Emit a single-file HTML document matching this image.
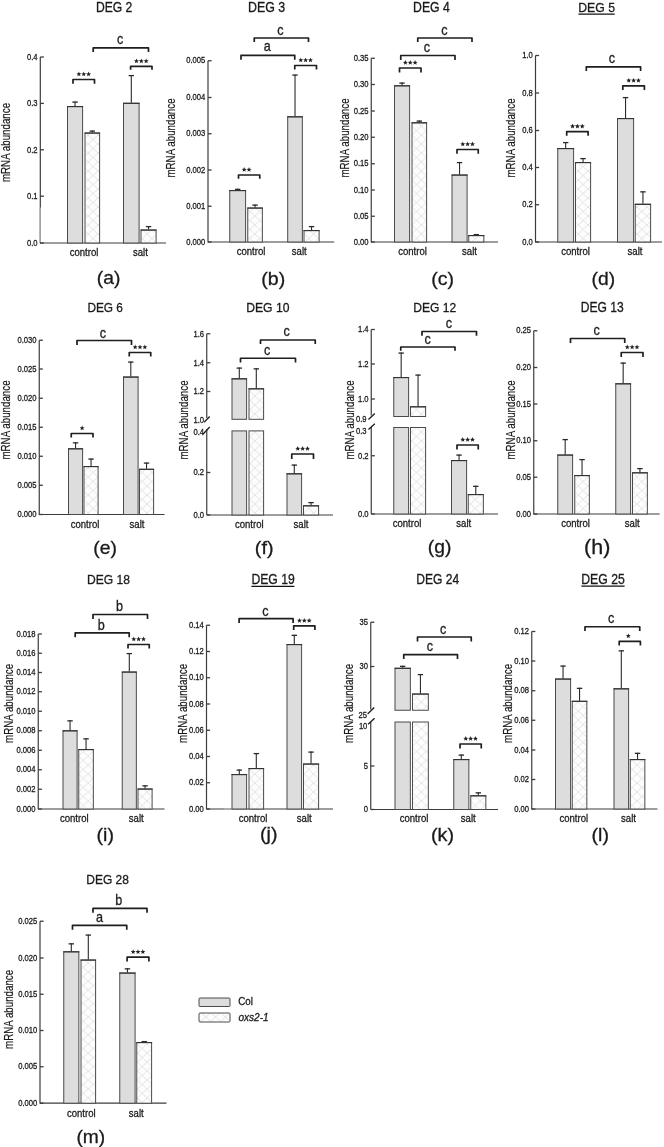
<!DOCTYPE html><html><head><meta charset="utf-8"><style>html,body{margin:0;padding:0;background:#fff;}svg{display:block;will-change:transform;}</style></head><body>
<svg width="664" height="1147" viewBox="0 0 664 1147" font-family='"Liberation Sans", sans-serif'>
<defs><pattern id="hatch" patternUnits="userSpaceOnUse" width="9.8" height="9.0" x="0" y="0"><rect width="9.8" height="9.0" fill="#fdfdfd"/><path d="M0,0 L9.8,9.0 M9.8,0 L0,9.0" stroke="#e2e2e2" stroke-width="0.95" fill="none"/></pattern></defs>
<rect width="664" height="1147" fill="#ffffff"/>
<text transform="translate(95.95,12.12) scale(0.882,1)" text-anchor="start" font-size="13.76" font-weight="normal" font-style="normal" fill="#1a1a1a" stroke="#1a1a1a" stroke-width="0.3" >DEG 2</text>
<text transform="translate(10.10,142.50) rotate(-90) scale(0.8,1)" text-anchor="middle" font-size="12.2" fill="#1a1a1a" stroke="#1a1a1a" stroke-width="0.2">mRNA abundance</text>
<line x1="40.30" y1="57.00" x2="40.30" y2="243.50" stroke="#3c3c3c" stroke-width="1.2" stroke-linecap="butt"/>
<line x1="40.30" y1="57.00" x2="43.90" y2="57.00" stroke="#3c3c3c" stroke-width="1.3" stroke-linecap="butt"/>
<text transform="translate(37.60,59.70) scale(0.810,1)" text-anchor="end" font-size="9.4" font-weight="normal" font-style="normal" fill="#1a1a1a" stroke="#1a1a1a" stroke-width="0.3" >0.4</text>
<line x1="40.30" y1="103.40" x2="43.90" y2="103.40" stroke="#3c3c3c" stroke-width="1.3" stroke-linecap="butt"/>
<text transform="translate(37.60,106.10) scale(0.810,1)" text-anchor="end" font-size="9.4" font-weight="normal" font-style="normal" fill="#1a1a1a" stroke="#1a1a1a" stroke-width="0.3" >0.3</text>
<line x1="40.30" y1="149.80" x2="43.90" y2="149.80" stroke="#3c3c3c" stroke-width="1.3" stroke-linecap="butt"/>
<text transform="translate(37.60,152.50) scale(0.810,1)" text-anchor="end" font-size="9.4" font-weight="normal" font-style="normal" fill="#1a1a1a" stroke="#1a1a1a" stroke-width="0.3" >0.2</text>
<line x1="40.30" y1="196.20" x2="43.90" y2="196.20" stroke="#3c3c3c" stroke-width="1.3" stroke-linecap="butt"/>
<text transform="translate(37.60,198.90) scale(0.810,1)" text-anchor="end" font-size="9.4" font-weight="normal" font-style="normal" fill="#1a1a1a" stroke="#1a1a1a" stroke-width="0.3" >0.1</text>
<line x1="40.30" y1="243.00" x2="43.90" y2="243.00" stroke="#3c3c3c" stroke-width="1.3" stroke-linecap="butt"/>
<text transform="translate(37.60,245.70) scale(0.810,1)" text-anchor="end" font-size="9.4" font-weight="normal" font-style="normal" fill="#1a1a1a" stroke="#1a1a1a" stroke-width="0.3" >0.0</text>
<line x1="40.30" y1="243.00" x2="166.00" y2="243.00" stroke="#3c3c3c" stroke-width="1.2" stroke-linecap="butt"/>
<line x1="40.10" y1="207.80" x2="40.10" y2="242.00" stroke="#ffffff" stroke-width="1.4" stroke-linecap="butt"/>
<line x1="40.10" y1="207.80" x2="40.10" y2="242.00" stroke="#8c8c8c" stroke-width="1.2" stroke-linecap="butt"/>
<rect x="67.50" y="106.50" width="15.10" height="136.50" fill="#dddddd" stroke="#4a4a4a" stroke-width="1"/>
<line x1="67.00" y1="106.60" x2="83.10" y2="106.60" stroke="#333" stroke-width="1.15" stroke-linecap="butt"/>
<line x1="75.05" y1="101.50" x2="75.05" y2="106.00" stroke="#2a2a2a" stroke-width="1.1" stroke-linecap="butt"/>
<line x1="72.35" y1="102.10" x2="77.75" y2="102.10" stroke="#2a2a2a" stroke-width="1.3" stroke-linecap="butt"/>
<rect x="85.00" y="133.00" width="14.60" height="110.00" fill="url(#hatch)" stroke="#4a4a4a" stroke-width="1"/>
<line x1="84.50" y1="133.10" x2="100.10" y2="133.10" stroke="#333" stroke-width="1.15" stroke-linecap="butt"/>
<line x1="92.30" y1="130.50" x2="92.30" y2="132.50" stroke="#2a2a2a" stroke-width="1.1" stroke-linecap="butt"/>
<line x1="89.60" y1="131.10" x2="95.00" y2="131.10" stroke="#2a2a2a" stroke-width="1.3" stroke-linecap="butt"/>
<rect x="123.50" y="103.25" width="15.60" height="139.75" fill="#dddddd" stroke="#4a4a4a" stroke-width="1"/>
<line x1="123.00" y1="103.35" x2="139.60" y2="103.35" stroke="#333" stroke-width="1.15" stroke-linecap="butt"/>
<line x1="131.30" y1="75.00" x2="131.30" y2="102.75" stroke="#2a2a2a" stroke-width="1.1" stroke-linecap="butt"/>
<line x1="128.60" y1="75.60" x2="134.00" y2="75.60" stroke="#2a2a2a" stroke-width="1.3" stroke-linecap="butt"/>
<rect x="141.00" y="230.00" width="15.10" height="13.00" fill="url(#hatch)" stroke="#4a4a4a" stroke-width="1"/>
<line x1="140.50" y1="230.10" x2="156.60" y2="230.10" stroke="#333" stroke-width="1.15" stroke-linecap="butt"/>
<line x1="148.55" y1="226.00" x2="148.55" y2="229.50" stroke="#2a2a2a" stroke-width="1.1" stroke-linecap="butt"/>
<line x1="145.85" y1="226.60" x2="151.25" y2="226.60" stroke="#2a2a2a" stroke-width="1.3" stroke-linecap="butt"/>
<path d="M73.00,83.80 L73.00,79.50 L94.50,79.50 L94.50,83.80" fill="none" stroke="#1e1e1e" stroke-width="1.7" stroke-linejoin="round"/>
<polygon points="78.90,71.60 79.59,73.25 81.37,73.40 80.01,74.56 80.43,76.30 78.90,75.37 77.37,76.30 77.79,74.56 76.43,73.40 78.21,73.25" fill="#222"/>
<polygon points="83.75,71.60 84.44,73.25 86.22,73.40 84.86,74.56 85.28,76.30 83.75,75.37 82.22,76.30 82.64,74.56 81.28,73.40 83.06,73.25" fill="#222"/>
<polygon points="88.60,71.60 89.29,73.25 91.07,73.40 89.71,74.56 90.13,76.30 88.60,75.37 87.07,76.30 87.49,74.56 86.13,73.40 87.91,73.25" fill="#222"/>
<path d="M130.60,69.80 L130.60,66.40 L152.00,66.40 L152.00,69.80" fill="none" stroke="#1e1e1e" stroke-width="1.7" stroke-linejoin="round"/>
<polygon points="136.45,58.50 137.14,60.15 138.92,60.30 137.56,61.46 137.98,63.20 136.45,62.27 134.92,63.20 135.34,61.46 133.98,60.30 135.76,60.15" fill="#222"/>
<polygon points="141.30,58.50 141.99,60.15 143.77,60.30 142.41,61.46 142.83,63.20 141.30,62.27 139.77,63.20 140.19,61.46 138.83,60.30 140.61,60.15" fill="#222"/>
<polygon points="146.15,58.50 146.84,60.15 148.62,60.30 147.26,61.46 147.68,63.20 146.15,62.27 144.62,63.20 145.04,61.46 143.68,60.30 145.46,60.15" fill="#222"/>
<path d="M93.20,52.10 L93.20,47.90 L148.50,47.90 L148.50,52.10" fill="none" stroke="#1e1e1e" stroke-width="1.7" stroke-linejoin="round"/>
<text transform="translate(120.10,43.90) scale(0.900,1)" text-anchor="middle" font-size="14.0" font-weight="normal" font-style="normal" fill="#1e1e1e" stroke="#1e1e1e" stroke-width="0.3" >c</text>
<text transform="translate(84.00,256.40) scale(0.870,1)" text-anchor="middle" font-size="11.0" font-weight="normal" font-style="normal" fill="#1a1a1a" stroke="#1a1a1a" stroke-width="0.3" >control</text>
<text transform="translate(140.40,256.40) scale(0.870,1)" text-anchor="middle" font-size="11.0" font-weight="normal" font-style="normal" fill="#1a1a1a" stroke="#1a1a1a" stroke-width="0.3" >salt</text>
<text transform="translate(96.75,284.41) scale(1.040,1)" text-anchor="start" font-size="18.57" font-weight="normal" font-style="normal" fill="#1a1a1a" stroke="#1a1a1a" stroke-width="0.3" >(a)</text>
<text transform="translate(248.08,12.12) scale(0.901,1)" text-anchor="start" font-size="13.76" font-weight="normal" font-style="normal" fill="#1a1a1a" stroke="#1a1a1a" stroke-width="0.3" >DEG 3</text>
<text transform="translate(175.10,138.00) rotate(-90) scale(0.8,1)" text-anchor="middle" font-size="12.2" fill="#1a1a1a" stroke="#1a1a1a" stroke-width="0.2">mRNA abundance</text>
<line x1="208.00" y1="60.75" x2="208.00" y2="242.50" stroke="#3c3c3c" stroke-width="1.2" stroke-linecap="butt"/>
<line x1="208.00" y1="60.75" x2="211.60" y2="60.75" stroke="#3c3c3c" stroke-width="1.3" stroke-linecap="butt"/>
<text transform="translate(205.30,63.45) scale(0.810,1)" text-anchor="end" font-size="9.4" font-weight="normal" font-style="normal" fill="#1a1a1a" stroke="#1a1a1a" stroke-width="0.3" >0.005</text>
<line x1="208.00" y1="97.50" x2="211.60" y2="97.50" stroke="#3c3c3c" stroke-width="1.3" stroke-linecap="butt"/>
<text transform="translate(205.30,100.20) scale(0.810,1)" text-anchor="end" font-size="9.4" font-weight="normal" font-style="normal" fill="#1a1a1a" stroke="#1a1a1a" stroke-width="0.3" >0.004</text>
<line x1="208.00" y1="133.75" x2="211.60" y2="133.75" stroke="#3c3c3c" stroke-width="1.3" stroke-linecap="butt"/>
<text transform="translate(205.30,136.45) scale(0.810,1)" text-anchor="end" font-size="9.4" font-weight="normal" font-style="normal" fill="#1a1a1a" stroke="#1a1a1a" stroke-width="0.3" >0.003</text>
<line x1="208.00" y1="170.00" x2="211.60" y2="170.00" stroke="#3c3c3c" stroke-width="1.3" stroke-linecap="butt"/>
<text transform="translate(205.30,172.70) scale(0.810,1)" text-anchor="end" font-size="9.4" font-weight="normal" font-style="normal" fill="#1a1a1a" stroke="#1a1a1a" stroke-width="0.3" >0.002</text>
<line x1="208.00" y1="206.25" x2="211.60" y2="206.25" stroke="#3c3c3c" stroke-width="1.3" stroke-linecap="butt"/>
<text transform="translate(205.30,208.95) scale(0.810,1)" text-anchor="end" font-size="9.4" font-weight="normal" font-style="normal" fill="#1a1a1a" stroke="#1a1a1a" stroke-width="0.3" >0.001</text>
<line x1="208.00" y1="242.00" x2="211.60" y2="242.00" stroke="#3c3c3c" stroke-width="1.3" stroke-linecap="butt"/>
<text transform="translate(205.30,244.70) scale(0.810,1)" text-anchor="end" font-size="9.4" font-weight="normal" font-style="normal" fill="#1a1a1a" stroke="#1a1a1a" stroke-width="0.3" >0.000</text>
<line x1="208.00" y1="242.00" x2="334.20" y2="242.00" stroke="#3c3c3c" stroke-width="1.2" stroke-linecap="butt"/>
<rect x="229.75" y="190.50" width="15.85" height="51.50" fill="#dddddd" stroke="#4a4a4a" stroke-width="1"/>
<line x1="229.25" y1="190.60" x2="246.10" y2="190.60" stroke="#333" stroke-width="1.15" stroke-linecap="butt"/>
<line x1="237.68" y1="188.75" x2="237.68" y2="190.00" stroke="#2a2a2a" stroke-width="1.1" stroke-linecap="butt"/>
<line x1="234.98" y1="189.35" x2="240.38" y2="189.35" stroke="#2a2a2a" stroke-width="1.3" stroke-linecap="butt"/>
<rect x="247.75" y="208.00" width="14.60" height="34.00" fill="url(#hatch)" stroke="#4a4a4a" stroke-width="1"/>
<line x1="247.25" y1="208.10" x2="262.85" y2="208.10" stroke="#333" stroke-width="1.15" stroke-linecap="butt"/>
<line x1="255.05" y1="204.50" x2="255.05" y2="207.50" stroke="#2a2a2a" stroke-width="1.1" stroke-linecap="butt"/>
<line x1="252.35" y1="205.10" x2="257.75" y2="205.10" stroke="#2a2a2a" stroke-width="1.3" stroke-linecap="butt"/>
<rect x="287.70" y="116.75" width="14.65" height="125.25" fill="#dddddd" stroke="#4a4a4a" stroke-width="1"/>
<line x1="287.20" y1="116.85" x2="302.85" y2="116.85" stroke="#333" stroke-width="1.15" stroke-linecap="butt"/>
<line x1="295.02" y1="74.50" x2="295.02" y2="116.25" stroke="#2a2a2a" stroke-width="1.1" stroke-linecap="butt"/>
<line x1="292.32" y1="75.10" x2="297.72" y2="75.10" stroke="#2a2a2a" stroke-width="1.3" stroke-linecap="butt"/>
<rect x="304.00" y="230.50" width="15.10" height="11.50" fill="url(#hatch)" stroke="#4a4a4a" stroke-width="1"/>
<line x1="303.50" y1="230.60" x2="319.60" y2="230.60" stroke="#333" stroke-width="1.15" stroke-linecap="butt"/>
<line x1="311.55" y1="226.00" x2="311.55" y2="230.00" stroke="#2a2a2a" stroke-width="1.1" stroke-linecap="butt"/>
<line x1="308.85" y1="226.60" x2="314.25" y2="226.60" stroke="#2a2a2a" stroke-width="1.3" stroke-linecap="butt"/>
<path d="M238.50,178.80 L238.50,175.00 L259.75,175.00 L259.75,178.80" fill="none" stroke="#1e1e1e" stroke-width="1.7" stroke-linejoin="round"/>
<polygon points="244.17,167.10 244.86,168.75 246.65,168.90 245.29,170.06 245.70,171.80 244.17,170.87 242.65,171.80 243.06,170.06 241.70,168.90 243.49,168.75" fill="#222"/>
<polygon points="249.03,167.10 249.71,168.75 251.50,168.90 250.14,170.06 250.55,171.80 249.03,170.87 247.50,171.80 247.91,170.06 246.55,168.90 248.34,168.75" fill="#222"/>
<path d="M294.75,69.50 L294.75,65.50 L316.50,65.50 L316.50,69.50" fill="none" stroke="#1e1e1e" stroke-width="1.7" stroke-linejoin="round"/>
<polygon points="300.77,57.60 301.46,59.25 303.25,59.40 301.89,60.56 302.30,62.30 300.77,61.37 299.25,62.30 299.66,60.56 298.30,59.40 300.09,59.25" fill="#222"/>
<polygon points="305.62,57.60 306.31,59.25 308.10,59.40 306.74,60.56 307.15,62.30 305.62,61.37 304.10,62.30 304.51,60.56 303.15,59.40 304.94,59.25" fill="#222"/>
<polygon points="310.48,57.60 311.16,59.25 312.95,59.40 311.59,60.56 312.00,62.30 310.48,61.37 308.95,62.30 309.36,60.56 308.00,59.40 309.79,59.25" fill="#222"/>
<path d="M241.00,59.80 L241.00,55.30 L294.75,55.30 L294.75,59.80" fill="none" stroke="#1e1e1e" stroke-width="1.7" stroke-linejoin="round"/>
<text transform="translate(267.25,51.00) scale(0.900,1)" text-anchor="middle" font-size="14.0" font-weight="normal" font-style="normal" fill="#1e1e1e" stroke="#1e1e1e" stroke-width="0.3" >a</text>
<path d="M254.25,42.00 L254.25,38.00 L308.50,38.00 L308.50,42.00" fill="none" stroke="#1e1e1e" stroke-width="1.7" stroke-linejoin="round"/>
<text transform="translate(280.50,34.50) scale(0.900,1)" text-anchor="middle" font-size="14.0" font-weight="normal" font-style="normal" fill="#1e1e1e" stroke="#1e1e1e" stroke-width="0.3" >c</text>
<text transform="translate(251.00,254.90) scale(0.870,1)" text-anchor="middle" font-size="11.0" font-weight="normal" font-style="normal" fill="#1a1a1a" stroke="#1a1a1a" stroke-width="0.3" >control</text>
<text transform="translate(299.25,254.90) scale(0.870,1)" text-anchor="middle" font-size="11.0" font-weight="normal" font-style="normal" fill="#1a1a1a" stroke="#1a1a1a" stroke-width="0.3" >salt</text>
<text transform="translate(261.34,284.61) scale(1.054,1)" text-anchor="start" font-size="18.57" font-weight="normal" font-style="normal" fill="#1a1a1a" stroke="#1a1a1a" stroke-width="0.3" >(b)</text>
<text transform="translate(413.10,12.12) scale(0.889,1)" text-anchor="start" font-size="13.76" font-weight="normal" font-style="normal" fill="#1a1a1a" stroke="#1a1a1a" stroke-width="0.3" >DEG 4</text>
<text transform="translate(348.60,138.00) rotate(-90) scale(0.8,1)" text-anchor="middle" font-size="12.2" fill="#1a1a1a" stroke="#1a1a1a" stroke-width="0.2">mRNA abundance</text>
<line x1="371.25" y1="58.25" x2="371.25" y2="242.50" stroke="#3c3c3c" stroke-width="1.2" stroke-linecap="butt"/>
<line x1="371.25" y1="58.25" x2="374.85" y2="58.25" stroke="#3c3c3c" stroke-width="1.3" stroke-linecap="butt"/>
<text transform="translate(368.55,60.95) scale(0.810,1)" text-anchor="end" font-size="9.4" font-weight="normal" font-style="normal" fill="#1a1a1a" stroke="#1a1a1a" stroke-width="0.3" >0.35</text>
<line x1="371.25" y1="84.50" x2="374.85" y2="84.50" stroke="#3c3c3c" stroke-width="1.3" stroke-linecap="butt"/>
<text transform="translate(368.55,87.20) scale(0.810,1)" text-anchor="end" font-size="9.4" font-weight="normal" font-style="normal" fill="#1a1a1a" stroke="#1a1a1a" stroke-width="0.3" >0.30</text>
<line x1="371.25" y1="111.00" x2="374.85" y2="111.00" stroke="#3c3c3c" stroke-width="1.3" stroke-linecap="butt"/>
<text transform="translate(368.55,113.70) scale(0.810,1)" text-anchor="end" font-size="9.4" font-weight="normal" font-style="normal" fill="#1a1a1a" stroke="#1a1a1a" stroke-width="0.3" >0.25</text>
<line x1="371.25" y1="137.25" x2="374.85" y2="137.25" stroke="#3c3c3c" stroke-width="1.3" stroke-linecap="butt"/>
<text transform="translate(368.55,139.95) scale(0.810,1)" text-anchor="end" font-size="9.4" font-weight="normal" font-style="normal" fill="#1a1a1a" stroke="#1a1a1a" stroke-width="0.3" >0.20</text>
<line x1="371.25" y1="163.75" x2="374.85" y2="163.75" stroke="#3c3c3c" stroke-width="1.3" stroke-linecap="butt"/>
<text transform="translate(368.55,166.45) scale(0.810,1)" text-anchor="end" font-size="9.4" font-weight="normal" font-style="normal" fill="#1a1a1a" stroke="#1a1a1a" stroke-width="0.3" >0.15</text>
<line x1="371.25" y1="190.00" x2="374.85" y2="190.00" stroke="#3c3c3c" stroke-width="1.3" stroke-linecap="butt"/>
<text transform="translate(368.55,192.70) scale(0.810,1)" text-anchor="end" font-size="9.4" font-weight="normal" font-style="normal" fill="#1a1a1a" stroke="#1a1a1a" stroke-width="0.3" >0.10</text>
<line x1="371.25" y1="216.25" x2="374.85" y2="216.25" stroke="#3c3c3c" stroke-width="1.3" stroke-linecap="butt"/>
<text transform="translate(368.55,218.95) scale(0.810,1)" text-anchor="end" font-size="9.4" font-weight="normal" font-style="normal" fill="#1a1a1a" stroke="#1a1a1a" stroke-width="0.3" >0.05</text>
<line x1="371.25" y1="242.00" x2="374.85" y2="242.00" stroke="#3c3c3c" stroke-width="1.3" stroke-linecap="butt"/>
<text transform="translate(368.55,244.70) scale(0.810,1)" text-anchor="end" font-size="9.4" font-weight="normal" font-style="normal" fill="#1a1a1a" stroke="#1a1a1a" stroke-width="0.3" >0.00</text>
<line x1="371.25" y1="242.00" x2="498.00" y2="242.00" stroke="#3c3c3c" stroke-width="1.2" stroke-linecap="butt"/>
<rect x="394.50" y="85.75" width="15.10" height="156.25" fill="#dddddd" stroke="#4a4a4a" stroke-width="1"/>
<line x1="394.00" y1="85.85" x2="410.10" y2="85.85" stroke="#333" stroke-width="1.15" stroke-linecap="butt"/>
<line x1="402.05" y1="82.50" x2="402.05" y2="85.25" stroke="#2a2a2a" stroke-width="1.1" stroke-linecap="butt"/>
<line x1="399.35" y1="83.10" x2="404.75" y2="83.10" stroke="#2a2a2a" stroke-width="1.3" stroke-linecap="butt"/>
<rect x="412.00" y="122.75" width="14.60" height="119.25" fill="url(#hatch)" stroke="#4a4a4a" stroke-width="1"/>
<line x1="411.50" y1="122.85" x2="427.10" y2="122.85" stroke="#333" stroke-width="1.15" stroke-linecap="butt"/>
<line x1="419.30" y1="120.50" x2="419.30" y2="122.25" stroke="#2a2a2a" stroke-width="1.1" stroke-linecap="butt"/>
<line x1="416.60" y1="121.10" x2="422.00" y2="121.10" stroke="#2a2a2a" stroke-width="1.3" stroke-linecap="butt"/>
<rect x="452.00" y="175.00" width="15.10" height="67.00" fill="#dddddd" stroke="#4a4a4a" stroke-width="1"/>
<line x1="451.50" y1="175.10" x2="467.60" y2="175.10" stroke="#333" stroke-width="1.15" stroke-linecap="butt"/>
<line x1="459.55" y1="162.00" x2="459.55" y2="174.50" stroke="#2a2a2a" stroke-width="1.1" stroke-linecap="butt"/>
<line x1="456.85" y1="162.60" x2="462.25" y2="162.60" stroke="#2a2a2a" stroke-width="1.3" stroke-linecap="butt"/>
<rect x="468.75" y="235.50" width="15.10" height="6.50" fill="url(#hatch)" stroke="#4a4a4a" stroke-width="1"/>
<line x1="468.25" y1="235.60" x2="484.35" y2="235.60" stroke="#333" stroke-width="1.15" stroke-linecap="butt"/>
<line x1="476.30" y1="234.00" x2="476.30" y2="235.00" stroke="#2a2a2a" stroke-width="1.1" stroke-linecap="butt"/>
<line x1="473.60" y1="234.60" x2="479.00" y2="234.60" stroke="#2a2a2a" stroke-width="1.3" stroke-linecap="butt"/>
<path d="M399.50,72.50 L399.50,68.00 L421.00,68.00 L421.00,72.50" fill="none" stroke="#1e1e1e" stroke-width="1.7" stroke-linejoin="round"/>
<polygon points="405.40,60.10 406.09,61.75 407.87,61.90 406.51,63.06 406.93,64.80 405.40,63.87 403.87,64.80 404.29,63.06 402.93,61.90 404.71,61.75" fill="#222"/>
<polygon points="410.25,60.10 410.94,61.75 412.72,61.90 411.36,63.06 411.78,64.80 410.25,63.87 408.72,64.80 409.14,63.06 407.78,61.90 409.56,61.75" fill="#222"/>
<polygon points="415.10,60.10 415.79,61.75 417.57,61.90 416.21,63.06 416.63,64.80 415.10,63.87 413.57,64.80 413.99,63.06 412.63,61.90 414.41,61.75" fill="#222"/>
<path d="M457.00,153.75 L457.00,149.50 L478.25,149.50 L478.25,153.75" fill="none" stroke="#1e1e1e" stroke-width="1.7" stroke-linejoin="round"/>
<polygon points="462.77,141.60 463.46,143.25 465.25,143.40 463.89,144.56 464.30,146.30 462.77,145.37 461.25,146.30 461.66,144.56 460.30,143.40 462.09,143.25" fill="#222"/>
<polygon points="467.62,141.60 468.31,143.25 470.10,143.40 468.74,144.56 469.15,146.30 467.62,145.37 466.10,146.30 466.51,144.56 465.15,143.40 466.94,143.25" fill="#222"/>
<polygon points="472.48,141.60 473.16,143.25 474.95,143.40 473.59,144.56 474.00,146.30 472.48,145.37 470.95,146.30 471.36,144.56 470.00,143.40 471.79,143.25" fill="#222"/>
<path d="M400.75,60.00 L400.75,55.50 L455.00,55.50 L455.00,60.00" fill="none" stroke="#1e1e1e" stroke-width="1.7" stroke-linejoin="round"/>
<text transform="translate(427.00,52.00) scale(0.900,1)" text-anchor="middle" font-size="14.0" font-weight="normal" font-style="normal" fill="#1e1e1e" stroke="#1e1e1e" stroke-width="0.3" >c</text>
<path d="M417.75,42.00 L417.75,38.00 L472.00,38.00 L472.00,42.00" fill="none" stroke="#1e1e1e" stroke-width="1.7" stroke-linejoin="round"/>
<text transform="translate(444.50,34.50) scale(0.900,1)" text-anchor="middle" font-size="14.0" font-weight="normal" font-style="normal" fill="#1e1e1e" stroke="#1e1e1e" stroke-width="0.3" >c</text>
<text transform="translate(412.50,255.30) scale(0.870,1)" text-anchor="middle" font-size="11.0" font-weight="normal" font-style="normal" fill="#1a1a1a" stroke="#1a1a1a" stroke-width="0.3" >control</text>
<text transform="translate(469.50,255.30) scale(0.870,1)" text-anchor="middle" font-size="11.0" font-weight="normal" font-style="normal" fill="#1a1a1a" stroke="#1a1a1a" stroke-width="0.3" >salt</text>
<text transform="translate(431.24,284.61) scale(1.049,1)" text-anchor="start" font-size="18.57" font-weight="normal" font-style="normal" fill="#1a1a1a" stroke="#1a1a1a" stroke-width="0.3" >(c)</text>
<text transform="translate(578.25,12.02) scale(0.902,1)" text-anchor="start" font-size="13.56" font-weight="normal" font-style="normal" fill="#1a1a1a" stroke="#1a1a1a" stroke-width="0.3" >DEG 5</text>
<line x1="578.40" y1="14.20" x2="614.70" y2="14.20" stroke="#111" stroke-width="1.2" stroke-linecap="butt"/>
<text transform="translate(514.60,138.00) rotate(-90) scale(0.8,1)" text-anchor="middle" font-size="12.2" fill="#1a1a1a" stroke="#1a1a1a" stroke-width="0.2">mRNA abundance</text>
<line x1="535.50" y1="55.50" x2="535.50" y2="242.50" stroke="#3c3c3c" stroke-width="1.2" stroke-linecap="butt"/>
<line x1="535.50" y1="55.50" x2="539.10" y2="55.50" stroke="#3c3c3c" stroke-width="1.3" stroke-linecap="butt"/>
<text transform="translate(532.80,58.20) scale(0.810,1)" text-anchor="end" font-size="9.4" font-weight="normal" font-style="normal" fill="#1a1a1a" stroke="#1a1a1a" stroke-width="0.3" >1.0</text>
<line x1="535.50" y1="93.00" x2="539.10" y2="93.00" stroke="#3c3c3c" stroke-width="1.3" stroke-linecap="butt"/>
<text transform="translate(532.80,95.70) scale(0.810,1)" text-anchor="end" font-size="9.4" font-weight="normal" font-style="normal" fill="#1a1a1a" stroke="#1a1a1a" stroke-width="0.3" >0.8</text>
<line x1="535.50" y1="130.50" x2="539.10" y2="130.50" stroke="#3c3c3c" stroke-width="1.3" stroke-linecap="butt"/>
<text transform="translate(532.80,133.20) scale(0.810,1)" text-anchor="end" font-size="9.4" font-weight="normal" font-style="normal" fill="#1a1a1a" stroke="#1a1a1a" stroke-width="0.3" >0.6</text>
<line x1="535.50" y1="167.50" x2="539.10" y2="167.50" stroke="#3c3c3c" stroke-width="1.3" stroke-linecap="butt"/>
<text transform="translate(532.80,170.20) scale(0.810,1)" text-anchor="end" font-size="9.4" font-weight="normal" font-style="normal" fill="#1a1a1a" stroke="#1a1a1a" stroke-width="0.3" >0.4</text>
<line x1="535.50" y1="204.75" x2="539.10" y2="204.75" stroke="#3c3c3c" stroke-width="1.3" stroke-linecap="butt"/>
<text transform="translate(532.80,207.45) scale(0.810,1)" text-anchor="end" font-size="9.4" font-weight="normal" font-style="normal" fill="#1a1a1a" stroke="#1a1a1a" stroke-width="0.3" >0.2</text>
<line x1="535.50" y1="242.00" x2="539.10" y2="242.00" stroke="#3c3c3c" stroke-width="1.3" stroke-linecap="butt"/>
<text transform="translate(532.80,244.70) scale(0.810,1)" text-anchor="end" font-size="9.4" font-weight="normal" font-style="normal" fill="#1a1a1a" stroke="#1a1a1a" stroke-width="0.3" >0.0</text>
<line x1="535.50" y1="242.00" x2="662.00" y2="242.00" stroke="#3c3c3c" stroke-width="1.2" stroke-linecap="butt"/>
<rect x="557.75" y="148.50" width="15.85" height="93.50" fill="#dddddd" stroke="#4a4a4a" stroke-width="1"/>
<line x1="557.25" y1="148.60" x2="574.10" y2="148.60" stroke="#333" stroke-width="1.15" stroke-linecap="butt"/>
<line x1="565.67" y1="142.00" x2="565.67" y2="148.00" stroke="#2a2a2a" stroke-width="1.1" stroke-linecap="butt"/>
<line x1="562.97" y1="142.60" x2="568.38" y2="142.60" stroke="#2a2a2a" stroke-width="1.3" stroke-linecap="butt"/>
<rect x="575.50" y="162.50" width="15.10" height="79.50" fill="url(#hatch)" stroke="#4a4a4a" stroke-width="1"/>
<line x1="575.00" y1="162.60" x2="591.10" y2="162.60" stroke="#333" stroke-width="1.15" stroke-linecap="butt"/>
<line x1="583.05" y1="158.00" x2="583.05" y2="162.00" stroke="#2a2a2a" stroke-width="1.1" stroke-linecap="butt"/>
<line x1="580.35" y1="158.60" x2="585.75" y2="158.60" stroke="#2a2a2a" stroke-width="1.3" stroke-linecap="butt"/>
<rect x="617.50" y="118.50" width="16.10" height="123.50" fill="#dddddd" stroke="#4a4a4a" stroke-width="1"/>
<line x1="617.00" y1="118.60" x2="634.10" y2="118.60" stroke="#333" stroke-width="1.15" stroke-linecap="butt"/>
<line x1="625.55" y1="97.00" x2="625.55" y2="118.00" stroke="#2a2a2a" stroke-width="1.1" stroke-linecap="butt"/>
<line x1="622.85" y1="97.60" x2="628.25" y2="97.60" stroke="#2a2a2a" stroke-width="1.3" stroke-linecap="butt"/>
<rect x="635.25" y="204.25" width="15.35" height="37.75" fill="url(#hatch)" stroke="#4a4a4a" stroke-width="1"/>
<line x1="634.75" y1="204.35" x2="651.10" y2="204.35" stroke="#333" stroke-width="1.15" stroke-linecap="butt"/>
<line x1="642.92" y1="191.25" x2="642.92" y2="203.75" stroke="#2a2a2a" stroke-width="1.1" stroke-linecap="butt"/>
<line x1="640.22" y1="191.85" x2="645.62" y2="191.85" stroke="#2a2a2a" stroke-width="1.3" stroke-linecap="butt"/>
<path d="M566.70,135.80 L566.70,131.60 L588.10,131.60 L588.10,135.80" fill="none" stroke="#1e1e1e" stroke-width="1.7" stroke-linejoin="round"/>
<polygon points="572.55,123.70 573.24,125.35 575.02,125.50 573.66,126.66 574.08,128.40 572.55,127.47 571.02,128.40 571.44,126.66 570.08,125.50 571.86,125.35" fill="#222"/>
<polygon points="577.40,123.70 578.09,125.35 579.87,125.50 578.51,126.66 578.93,128.40 577.40,127.47 575.87,128.40 576.29,126.66 574.93,125.50 576.71,125.35" fill="#222"/>
<polygon points="582.25,123.70 582.94,125.35 584.72,125.50 583.36,126.66 583.78,128.40 582.25,127.47 580.72,128.40 581.14,126.66 579.78,125.50 581.56,125.35" fill="#222"/>
<path d="M622.80,90.00 L622.80,85.80 L644.40,85.80 L644.40,90.00" fill="none" stroke="#1e1e1e" stroke-width="1.7" stroke-linejoin="round"/>
<polygon points="628.75,77.90 629.44,79.55 631.22,79.70 629.86,80.86 630.28,82.60 628.75,81.67 627.22,82.60 627.64,80.86 626.28,79.70 628.06,79.55" fill="#222"/>
<polygon points="633.60,77.90 634.29,79.55 636.07,79.70 634.71,80.86 635.13,82.60 633.60,81.67 632.07,82.60 632.49,80.86 631.13,79.70 632.91,79.55" fill="#222"/>
<polygon points="638.45,77.90 639.14,79.55 640.92,79.70 639.56,80.86 639.98,82.60 638.45,81.67 636.92,82.60 637.34,80.86 635.98,79.70 637.76,79.55" fill="#222"/>
<path d="M586.30,71.10 L586.30,66.90 L640.60,66.90 L640.60,71.10" fill="none" stroke="#1e1e1e" stroke-width="1.7" stroke-linejoin="round"/>
<text transform="translate(612.00,63.30) scale(0.900,1)" text-anchor="middle" font-size="14.0" font-weight="normal" font-style="normal" fill="#1e1e1e" stroke="#1e1e1e" stroke-width="0.3" >c</text>
<text transform="translate(575.50,255.30) scale(0.870,1)" text-anchor="middle" font-size="11.0" font-weight="normal" font-style="normal" fill="#1a1a1a" stroke="#1a1a1a" stroke-width="0.3" >control</text>
<text transform="translate(635.00,255.30) scale(0.870,1)" text-anchor="middle" font-size="11.0" font-weight="normal" font-style="normal" fill="#1a1a1a" stroke="#1a1a1a" stroke-width="0.3" >salt</text>
<text transform="translate(591.56,284.61) scale(1.035,1)" text-anchor="start" font-size="18.57" font-weight="normal" font-style="normal" fill="#1a1a1a" stroke="#1a1a1a" stroke-width="0.3" >(d)</text>
<text transform="translate(87.38,312.32) scale(0.866,1)" text-anchor="start" font-size="13.7" font-weight="normal" font-style="normal" fill="#1a1a1a" stroke="#1a1a1a" stroke-width="0.3" >DEG 6</text>
<text transform="translate(9.60,420.00) rotate(-90) scale(0.8,1)" text-anchor="middle" font-size="12.2" fill="#1a1a1a" stroke="#1a1a1a" stroke-width="0.2">mRNA abundance</text>
<line x1="39.25" y1="340.25" x2="39.25" y2="515.00" stroke="#3c3c3c" stroke-width="1.2" stroke-linecap="butt"/>
<line x1="39.25" y1="340.25" x2="42.85" y2="340.25" stroke="#3c3c3c" stroke-width="1.3" stroke-linecap="butt"/>
<text transform="translate(36.55,342.95) scale(0.810,1)" text-anchor="end" font-size="9.4" font-weight="normal" font-style="normal" fill="#1a1a1a" stroke="#1a1a1a" stroke-width="0.3" >0.030</text>
<line x1="39.25" y1="369.00" x2="42.85" y2="369.00" stroke="#3c3c3c" stroke-width="1.3" stroke-linecap="butt"/>
<text transform="translate(36.55,371.70) scale(0.810,1)" text-anchor="end" font-size="9.4" font-weight="normal" font-style="normal" fill="#1a1a1a" stroke="#1a1a1a" stroke-width="0.3" >0.025</text>
<line x1="39.25" y1="398.25" x2="42.85" y2="398.25" stroke="#3c3c3c" stroke-width="1.3" stroke-linecap="butt"/>
<text transform="translate(36.55,400.95) scale(0.810,1)" text-anchor="end" font-size="9.4" font-weight="normal" font-style="normal" fill="#1a1a1a" stroke="#1a1a1a" stroke-width="0.3" >0.020</text>
<line x1="39.25" y1="427.25" x2="42.85" y2="427.25" stroke="#3c3c3c" stroke-width="1.3" stroke-linecap="butt"/>
<text transform="translate(36.55,429.95) scale(0.810,1)" text-anchor="end" font-size="9.4" font-weight="normal" font-style="normal" fill="#1a1a1a" stroke="#1a1a1a" stroke-width="0.3" >0.015</text>
<line x1="39.25" y1="456.25" x2="42.85" y2="456.25" stroke="#3c3c3c" stroke-width="1.3" stroke-linecap="butt"/>
<text transform="translate(36.55,458.95) scale(0.810,1)" text-anchor="end" font-size="9.4" font-weight="normal" font-style="normal" fill="#1a1a1a" stroke="#1a1a1a" stroke-width="0.3" >0.010</text>
<line x1="39.25" y1="485.25" x2="42.85" y2="485.25" stroke="#3c3c3c" stroke-width="1.3" stroke-linecap="butt"/>
<text transform="translate(36.55,487.95) scale(0.810,1)" text-anchor="end" font-size="9.4" font-weight="normal" font-style="normal" fill="#1a1a1a" stroke="#1a1a1a" stroke-width="0.3" >0.005</text>
<line x1="39.25" y1="514.50" x2="42.85" y2="514.50" stroke="#3c3c3c" stroke-width="1.3" stroke-linecap="butt"/>
<text transform="translate(36.55,517.20) scale(0.810,1)" text-anchor="end" font-size="9.4" font-weight="normal" font-style="normal" fill="#1a1a1a" stroke="#1a1a1a" stroke-width="0.3" >0.000</text>
<line x1="39.25" y1="514.50" x2="164.50" y2="514.50" stroke="#3c3c3c" stroke-width="1.2" stroke-linecap="butt"/>
<rect x="68.50" y="448.75" width="14.10" height="65.75" fill="#dddddd" stroke="#4a4a4a" stroke-width="1"/>
<line x1="68.00" y1="448.85" x2="83.10" y2="448.85" stroke="#333" stroke-width="1.15" stroke-linecap="butt"/>
<line x1="75.55" y1="442.25" x2="75.55" y2="448.25" stroke="#2a2a2a" stroke-width="1.1" stroke-linecap="butt"/>
<line x1="72.85" y1="442.85" x2="78.25" y2="442.85" stroke="#2a2a2a" stroke-width="1.3" stroke-linecap="butt"/>
<rect x="84.00" y="466.50" width="14.10" height="48.00" fill="url(#hatch)" stroke="#4a4a4a" stroke-width="1"/>
<line x1="83.50" y1="466.60" x2="98.60" y2="466.60" stroke="#333" stroke-width="1.15" stroke-linecap="butt"/>
<line x1="91.05" y1="458.50" x2="91.05" y2="466.00" stroke="#2a2a2a" stroke-width="1.1" stroke-linecap="butt"/>
<line x1="88.35" y1="459.10" x2="93.75" y2="459.10" stroke="#2a2a2a" stroke-width="1.3" stroke-linecap="butt"/>
<rect x="123.50" y="377.00" width="14.60" height="137.50" fill="#dddddd" stroke="#4a4a4a" stroke-width="1"/>
<line x1="123.00" y1="377.10" x2="138.60" y2="377.10" stroke="#333" stroke-width="1.15" stroke-linecap="butt"/>
<line x1="130.80" y1="361.50" x2="130.80" y2="376.50" stroke="#2a2a2a" stroke-width="1.1" stroke-linecap="butt"/>
<line x1="128.10" y1="362.10" x2="133.50" y2="362.10" stroke="#2a2a2a" stroke-width="1.3" stroke-linecap="butt"/>
<rect x="139.50" y="469.25" width="14.10" height="45.25" fill="url(#hatch)" stroke="#4a4a4a" stroke-width="1"/>
<line x1="139.00" y1="469.35" x2="154.10" y2="469.35" stroke="#333" stroke-width="1.15" stroke-linecap="butt"/>
<line x1="146.55" y1="462.50" x2="146.55" y2="468.75" stroke="#2a2a2a" stroke-width="1.1" stroke-linecap="butt"/>
<line x1="143.85" y1="463.10" x2="149.25" y2="463.10" stroke="#2a2a2a" stroke-width="1.3" stroke-linecap="butt"/>
<path d="M71.25,437.50 L71.25,433.50 L93.00,433.50 L93.00,437.50" fill="none" stroke="#1e1e1e" stroke-width="1.7" stroke-linejoin="round"/>
<polygon points="82.12,425.60 82.81,427.25 84.60,427.40 83.24,428.56 83.65,430.30 82.12,429.37 80.60,430.30 81.01,428.56 79.65,427.40 81.44,427.25" fill="#222"/>
<path d="M129.25,356.50 L129.25,352.50 L150.75,352.50 L150.75,356.50" fill="none" stroke="#1e1e1e" stroke-width="1.7" stroke-linejoin="round"/>
<polygon points="135.15,344.60 135.84,346.25 137.62,346.40 136.26,347.56 136.68,349.30 135.15,348.37 133.62,349.30 134.04,347.56 132.68,346.40 134.46,346.25" fill="#222"/>
<polygon points="140.00,344.60 140.69,346.25 142.47,346.40 141.11,347.56 141.53,349.30 140.00,348.37 138.47,349.30 138.89,347.56 137.53,346.40 139.31,346.25" fill="#222"/>
<polygon points="144.85,344.60 145.54,346.25 147.32,346.40 145.96,347.56 146.38,349.30 144.85,348.37 143.32,349.30 143.74,347.56 142.38,346.40 144.16,346.25" fill="#222"/>
<path d="M77.00,345.00 L77.00,340.50 L131.50,340.50 L131.50,345.00" fill="none" stroke="#1e1e1e" stroke-width="1.7" stroke-linejoin="round"/>
<text transform="translate(103.00,337.50) scale(0.900,1)" text-anchor="middle" font-size="14.0" font-weight="normal" font-style="normal" fill="#1e1e1e" stroke="#1e1e1e" stroke-width="0.3" >c</text>
<text transform="translate(85.00,528.20) scale(0.870,1)" text-anchor="middle" font-size="11.0" font-weight="normal" font-style="normal" fill="#1a1a1a" stroke="#1a1a1a" stroke-width="0.3" >control</text>
<text transform="translate(137.00,528.20) scale(0.870,1)" text-anchor="middle" font-size="11.0" font-weight="normal" font-style="normal" fill="#1a1a1a" stroke="#1a1a1a" stroke-width="0.3" >salt</text>
<text transform="translate(93.35,553.91) scale(1.045,1)" text-anchor="start" font-size="18.57" font-weight="normal" font-style="normal" fill="#1a1a1a" stroke="#1a1a1a" stroke-width="0.3" >(e)</text>
<text transform="translate(246.25,312.22) scale(0.914,1)" text-anchor="start" font-size="13.28" font-weight="normal" font-style="normal" fill="#1a1a1a" stroke="#1a1a1a" stroke-width="0.3" >DEG 10</text>
<text transform="translate(187.60,420.00) rotate(-90) scale(0.8,1)" text-anchor="middle" font-size="12.2" fill="#1a1a1a" stroke="#1a1a1a" stroke-width="0.2">mRNA abundance</text>
<line x1="206.75" y1="333.75" x2="206.75" y2="418.00" stroke="#3c3c3c" stroke-width="1.2" stroke-linecap="butt"/>
<line x1="206.75" y1="333.75" x2="210.35" y2="333.75" stroke="#3c3c3c" stroke-width="1.3" stroke-linecap="butt"/>
<text transform="translate(204.05,336.50) scale(0.810,1)" text-anchor="end" font-size="9.4" font-weight="normal" font-style="normal" fill="#1a1a1a" stroke="#1a1a1a" stroke-width="0.3" >1.6</text>
<line x1="206.75" y1="362.75" x2="210.35" y2="362.75" stroke="#3c3c3c" stroke-width="1.3" stroke-linecap="butt"/>
<text transform="translate(204.05,365.50) scale(0.810,1)" text-anchor="end" font-size="9.4" font-weight="normal" font-style="normal" fill="#1a1a1a" stroke="#1a1a1a" stroke-width="0.3" >1.4</text>
<line x1="206.75" y1="391.50" x2="210.35" y2="391.50" stroke="#3c3c3c" stroke-width="1.3" stroke-linecap="butt"/>
<text transform="translate(204.05,394.25) scale(0.810,1)" text-anchor="end" font-size="9.4" font-weight="normal" font-style="normal" fill="#1a1a1a" stroke="#1a1a1a" stroke-width="0.3" >1.2</text>
<text transform="translate(204.05,422.95) scale(0.810,1)" text-anchor="end" font-size="9.4" font-weight="normal" font-style="normal" fill="#1a1a1a" stroke="#1a1a1a" stroke-width="0.3" >1.0</text>
<line x1="204.10" y1="422.30" x2="209.70" y2="416.60" stroke="#222" stroke-width="1.4" stroke-linecap="butt"/>
<line x1="206.75" y1="428.90" x2="206.75" y2="515.00" stroke="#3c3c3c" stroke-width="1.2" stroke-linecap="butt"/>
<line x1="202.90" y1="434.30" x2="209.70" y2="427.10" stroke="#222" stroke-width="1.4" stroke-linecap="butt"/>
<text transform="translate(204.05,435.05) scale(0.810,1)" text-anchor="end" font-size="9.4" font-weight="normal" font-style="normal" fill="#1a1a1a" stroke="#1a1a1a" stroke-width="0.3" >0.4</text>
<line x1="206.75" y1="472.50" x2="210.35" y2="472.50" stroke="#3c3c3c" stroke-width="1.3" stroke-linecap="butt"/>
<text transform="translate(204.05,475.25) scale(0.810,1)" text-anchor="end" font-size="9.4" font-weight="normal" font-style="normal" fill="#1a1a1a" stroke="#1a1a1a" stroke-width="0.3" >0.2</text>
<line x1="206.75" y1="515.00" x2="210.35" y2="515.00" stroke="#3c3c3c" stroke-width="1.3" stroke-linecap="butt"/>
<text transform="translate(204.05,517.75) scale(0.810,1)" text-anchor="end" font-size="9.4" font-weight="normal" font-style="normal" fill="#1a1a1a" stroke="#1a1a1a" stroke-width="0.3" >0.0</text>
<line x1="206.75" y1="515.00" x2="333.00" y2="515.00" stroke="#3c3c3c" stroke-width="1.2" stroke-linecap="butt"/>
<rect x="232.00" y="378.75" width="14.60" height="40.55" fill="#dddddd" stroke="#4a4a4a" stroke-width="1"/>
<line x1="231.50" y1="378.85" x2="247.10" y2="378.85" stroke="#333" stroke-width="1.15" stroke-linecap="butt"/>
<line x1="239.30" y1="367.50" x2="239.30" y2="378.25" stroke="#2a2a2a" stroke-width="1.1" stroke-linecap="butt"/>
<line x1="236.60" y1="368.10" x2="242.00" y2="368.10" stroke="#2a2a2a" stroke-width="1.3" stroke-linecap="butt"/>
<rect x="249.00" y="388.75" width="14.60" height="30.55" fill="url(#hatch)" stroke="#4a4a4a" stroke-width="1"/>
<line x1="248.50" y1="388.85" x2="264.10" y2="388.85" stroke="#333" stroke-width="1.15" stroke-linecap="butt"/>
<line x1="256.30" y1="368.25" x2="256.30" y2="388.25" stroke="#2a2a2a" stroke-width="1.1" stroke-linecap="butt"/>
<line x1="253.60" y1="368.85" x2="259.00" y2="368.85" stroke="#2a2a2a" stroke-width="1.3" stroke-linecap="butt"/>
<rect x="232.00" y="430.90" width="14.60" height="84.10" fill="#dddddd" stroke="#4a4a4a" stroke-width="1"/>
<rect x="249.00" y="430.90" width="14.60" height="84.10" fill="url(#hatch)" stroke="#4a4a4a" stroke-width="1"/>
<rect x="287.00" y="473.75" width="14.60" height="41.25" fill="#dddddd" stroke="#4a4a4a" stroke-width="1"/>
<line x1="286.50" y1="473.85" x2="302.10" y2="473.85" stroke="#333" stroke-width="1.15" stroke-linecap="butt"/>
<line x1="294.30" y1="464.50" x2="294.30" y2="473.25" stroke="#2a2a2a" stroke-width="1.1" stroke-linecap="butt"/>
<line x1="291.60" y1="465.10" x2="297.00" y2="465.10" stroke="#2a2a2a" stroke-width="1.3" stroke-linecap="butt"/>
<rect x="303.50" y="505.75" width="15.10" height="9.25" fill="url(#hatch)" stroke="#4a4a4a" stroke-width="1"/>
<line x1="303.00" y1="505.85" x2="319.10" y2="505.85" stroke="#333" stroke-width="1.15" stroke-linecap="butt"/>
<line x1="311.05" y1="502.00" x2="311.05" y2="505.25" stroke="#2a2a2a" stroke-width="1.1" stroke-linecap="butt"/>
<line x1="308.35" y1="502.60" x2="313.75" y2="502.60" stroke="#2a2a2a" stroke-width="1.3" stroke-linecap="butt"/>
<path d="M291.75,459.00 L291.75,454.00 L313.50,454.00 L313.50,459.00" fill="none" stroke="#1e1e1e" stroke-width="1.7" stroke-linejoin="round"/>
<polygon points="297.77,446.10 298.46,447.75 300.25,447.90 298.89,449.06 299.30,450.80 297.77,449.87 296.25,450.80 296.66,449.06 295.30,447.90 297.09,447.75" fill="#222"/>
<polygon points="302.62,446.10 303.31,447.75 305.10,447.90 303.74,449.06 304.15,450.80 302.62,449.87 301.10,450.80 301.51,449.06 300.15,447.90 301.94,447.75" fill="#222"/>
<polygon points="307.48,446.10 308.16,447.75 309.95,447.90 308.59,449.06 309.00,450.80 307.48,449.87 305.95,450.80 306.36,449.06 305.00,447.90 306.79,447.75" fill="#222"/>
<path d="M240.50,362.50 L240.50,358.25 L295.50,358.25 L295.50,362.50" fill="none" stroke="#1e1e1e" stroke-width="1.7" stroke-linejoin="round"/>
<text transform="translate(267.25,354.50) scale(0.900,1)" text-anchor="middle" font-size="14.0" font-weight="normal" font-style="normal" fill="#1e1e1e" stroke="#1e1e1e" stroke-width="0.3" >c</text>
<path d="M260.50,344.00 L260.50,340.00 L315.25,340.00 L315.25,344.00" fill="none" stroke="#1e1e1e" stroke-width="1.7" stroke-linejoin="round"/>
<text transform="translate(286.75,336.00) scale(0.900,1)" text-anchor="middle" font-size="14.0" font-weight="normal" font-style="normal" fill="#1e1e1e" stroke="#1e1e1e" stroke-width="0.3" >c</text>
<text transform="translate(249.25,528.20) scale(0.870,1)" text-anchor="middle" font-size="11.0" font-weight="normal" font-style="normal" fill="#1a1a1a" stroke="#1a1a1a" stroke-width="0.3" >control</text>
<text transform="translate(301.00,528.20) scale(0.870,1)" text-anchor="middle" font-size="11.0" font-weight="normal" font-style="normal" fill="#1a1a1a" stroke="#1a1a1a" stroke-width="0.3" >salt</text>
<text transform="translate(254.82,554.41) scale(1.064,1)" text-anchor="start" font-size="18.57" font-weight="normal" font-style="normal" fill="#1a1a1a" stroke="#1a1a1a" stroke-width="0.3" >(f)</text>
<text transform="translate(413.26,312.32) scale(0.880,1)" text-anchor="start" font-size="13.7" font-weight="normal" font-style="normal" fill="#1a1a1a" stroke="#1a1a1a" stroke-width="0.3" >DEG 12</text>
<text transform="translate(353.60,420.00) rotate(-90) scale(0.8,1)" text-anchor="middle" font-size="12.2" fill="#1a1a1a" stroke="#1a1a1a" stroke-width="0.2">mRNA abundance</text>
<line x1="371.25" y1="329.50" x2="371.25" y2="415.40" stroke="#3c3c3c" stroke-width="1.2" stroke-linecap="butt"/>
<line x1="371.25" y1="329.50" x2="374.85" y2="329.50" stroke="#3c3c3c" stroke-width="1.3" stroke-linecap="butt"/>
<text transform="translate(368.55,332.25) scale(0.810,1)" text-anchor="end" font-size="9.4" font-weight="normal" font-style="normal" fill="#1a1a1a" stroke="#1a1a1a" stroke-width="0.3" >1.4</text>
<line x1="371.25" y1="364.00" x2="374.85" y2="364.00" stroke="#3c3c3c" stroke-width="1.3" stroke-linecap="butt"/>
<text transform="translate(368.55,366.75) scale(0.810,1)" text-anchor="end" font-size="9.4" font-weight="normal" font-style="normal" fill="#1a1a1a" stroke="#1a1a1a" stroke-width="0.3" >1.2</text>
<line x1="371.25" y1="399.00" x2="374.85" y2="399.00" stroke="#3c3c3c" stroke-width="1.3" stroke-linecap="butt"/>
<text transform="translate(368.55,401.75) scale(0.810,1)" text-anchor="end" font-size="9.4" font-weight="normal" font-style="normal" fill="#1a1a1a" stroke="#1a1a1a" stroke-width="0.3" >1.0</text>
<text transform="translate(366.55,421.60) scale(0.810,1)" text-anchor="end" font-size="9.4" font-weight="normal" font-style="normal" fill="#1a1a1a" stroke="#1a1a1a" stroke-width="0.3" >0.9</text>
<line x1="368.50" y1="419.40" x2="374.80" y2="413.60" stroke="#222" stroke-width="1.4" stroke-linecap="butt"/>
<line x1="371.25" y1="427.10" x2="371.25" y2="514.00" stroke="#3c3c3c" stroke-width="1.2" stroke-linecap="butt"/>
<line x1="368.50" y1="429.40" x2="374.80" y2="423.70" stroke="#222" stroke-width="1.4" stroke-linecap="butt"/>
<text transform="translate(366.55,433.80) scale(0.810,1)" text-anchor="end" font-size="9.4" font-weight="normal" font-style="normal" fill="#1a1a1a" stroke="#1a1a1a" stroke-width="0.3" >0.3</text>
<line x1="371.25" y1="455.75" x2="374.85" y2="455.75" stroke="#3c3c3c" stroke-width="1.3" stroke-linecap="butt"/>
<text transform="translate(368.55,458.50) scale(0.810,1)" text-anchor="end" font-size="9.4" font-weight="normal" font-style="normal" fill="#1a1a1a" stroke="#1a1a1a" stroke-width="0.3" >0.2</text>
<line x1="371.25" y1="514.00" x2="374.85" y2="514.00" stroke="#3c3c3c" stroke-width="1.3" stroke-linecap="butt"/>
<text transform="translate(368.55,516.75) scale(0.810,1)" text-anchor="end" font-size="9.4" font-weight="normal" font-style="normal" fill="#1a1a1a" stroke="#1a1a1a" stroke-width="0.3" >0.0</text>
<line x1="371.25" y1="514.00" x2="498.00" y2="514.00" stroke="#3c3c3c" stroke-width="1.2" stroke-linecap="butt"/>
<rect x="393.75" y="377.50" width="14.85" height="39.00" fill="#dddddd" stroke="#4a4a4a" stroke-width="1"/>
<line x1="393.25" y1="377.60" x2="409.10" y2="377.60" stroke="#333" stroke-width="1.15" stroke-linecap="butt"/>
<line x1="401.18" y1="352.50" x2="401.18" y2="377.00" stroke="#2a2a2a" stroke-width="1.1" stroke-linecap="butt"/>
<line x1="398.48" y1="353.10" x2="403.88" y2="353.10" stroke="#2a2a2a" stroke-width="1.3" stroke-linecap="butt"/>
<rect x="410.50" y="406.75" width="15.10" height="9.75" fill="url(#hatch)" stroke="#4a4a4a" stroke-width="1"/>
<line x1="410.00" y1="406.85" x2="426.10" y2="406.85" stroke="#333" stroke-width="1.15" stroke-linecap="butt"/>
<line x1="418.05" y1="374.50" x2="418.05" y2="406.25" stroke="#2a2a2a" stroke-width="1.1" stroke-linecap="butt"/>
<line x1="415.35" y1="375.10" x2="420.75" y2="375.10" stroke="#2a2a2a" stroke-width="1.3" stroke-linecap="butt"/>
<rect x="393.75" y="427.50" width="14.85" height="86.50" fill="#dddddd" stroke="#4a4a4a" stroke-width="1"/>
<rect x="410.50" y="427.50" width="15.10" height="86.50" fill="url(#hatch)" stroke="#4a4a4a" stroke-width="1"/>
<rect x="451.50" y="460.50" width="15.10" height="53.50" fill="#dddddd" stroke="#4a4a4a" stroke-width="1"/>
<line x1="451.00" y1="460.60" x2="467.10" y2="460.60" stroke="#333" stroke-width="1.15" stroke-linecap="butt"/>
<line x1="459.05" y1="454.50" x2="459.05" y2="460.00" stroke="#2a2a2a" stroke-width="1.1" stroke-linecap="butt"/>
<line x1="456.35" y1="455.10" x2="461.75" y2="455.10" stroke="#2a2a2a" stroke-width="1.3" stroke-linecap="butt"/>
<rect x="468.25" y="494.50" width="15.10" height="19.50" fill="url(#hatch)" stroke="#4a4a4a" stroke-width="1"/>
<line x1="467.75" y1="494.60" x2="483.85" y2="494.60" stroke="#333" stroke-width="1.15" stroke-linecap="butt"/>
<line x1="475.80" y1="485.75" x2="475.80" y2="494.00" stroke="#2a2a2a" stroke-width="1.1" stroke-linecap="butt"/>
<line x1="473.10" y1="486.35" x2="478.50" y2="486.35" stroke="#2a2a2a" stroke-width="1.3" stroke-linecap="butt"/>
<path d="M457.00,449.50 L457.00,445.00 L478.25,445.00 L478.25,449.50" fill="none" stroke="#1e1e1e" stroke-width="1.7" stroke-linejoin="round"/>
<polygon points="462.77,437.10 463.46,438.75 465.25,438.90 463.89,440.06 464.30,441.80 462.77,440.87 461.25,441.80 461.66,440.06 460.30,438.90 462.09,438.75" fill="#222"/>
<polygon points="467.62,437.10 468.31,438.75 470.10,438.90 468.74,440.06 469.15,441.80 467.62,440.87 466.10,441.80 466.51,440.06 465.15,438.90 466.94,438.75" fill="#222"/>
<polygon points="472.48,437.10 473.16,438.75 474.95,438.90 473.59,440.06 474.00,441.80 472.48,440.87 470.95,441.80 471.36,440.06 470.00,438.90 471.79,438.75" fill="#222"/>
<path d="M400.75,350.75 L400.75,347.00 L455.00,347.00 L455.00,350.75" fill="none" stroke="#1e1e1e" stroke-width="1.7" stroke-linejoin="round"/>
<text transform="translate(427.70,343.50) scale(0.900,1)" text-anchor="middle" font-size="14.0" font-weight="normal" font-style="normal" fill="#1e1e1e" stroke="#1e1e1e" stroke-width="0.3" >c</text>
<path d="M422.00,335.75 L422.00,331.50 L476.50,331.50 L476.50,335.75" fill="none" stroke="#1e1e1e" stroke-width="1.7" stroke-linejoin="round"/>
<text transform="translate(448.80,328.00) scale(0.900,1)" text-anchor="middle" font-size="14.0" font-weight="normal" font-style="normal" fill="#1e1e1e" stroke="#1e1e1e" stroke-width="0.3" >c</text>
<text transform="translate(407.00,527.40) scale(0.870,1)" text-anchor="middle" font-size="11.0" font-weight="normal" font-style="normal" fill="#1a1a1a" stroke="#1a1a1a" stroke-width="0.3" >control</text>
<text transform="translate(463.75,527.40) scale(0.870,1)" text-anchor="middle" font-size="11.0" font-weight="normal" font-style="normal" fill="#1a1a1a" stroke="#1a1a1a" stroke-width="0.3" >salt</text>
<text transform="translate(427.75,553.38) scale(1.034,1)" text-anchor="start" font-size="18.67" font-weight="normal" font-style="normal" fill="#1a1a1a" stroke="#1a1a1a" stroke-width="0.3" >(g)</text>
<text transform="translate(580.86,312.32) scale(0.881,1)" text-anchor="start" font-size="13.7" font-weight="normal" font-style="normal" fill="#1a1a1a" stroke="#1a1a1a" stroke-width="0.3" >DEG 13</text>
<text transform="translate(514.60,420.00) rotate(-90) scale(0.8,1)" text-anchor="middle" font-size="12.2" fill="#1a1a1a" stroke="#1a1a1a" stroke-width="0.2">mRNA abundance</text>
<line x1="533.75" y1="330.75" x2="533.75" y2="514.50" stroke="#3c3c3c" stroke-width="1.2" stroke-linecap="butt"/>
<line x1="533.75" y1="330.75" x2="537.35" y2="330.75" stroke="#3c3c3c" stroke-width="1.3" stroke-linecap="butt"/>
<text transform="translate(531.05,333.45) scale(0.810,1)" text-anchor="end" font-size="9.4" font-weight="normal" font-style="normal" fill="#1a1a1a" stroke="#1a1a1a" stroke-width="0.3" >0.25</text>
<line x1="533.75" y1="367.50" x2="537.35" y2="367.50" stroke="#3c3c3c" stroke-width="1.3" stroke-linecap="butt"/>
<text transform="translate(531.05,370.20) scale(0.810,1)" text-anchor="end" font-size="9.4" font-weight="normal" font-style="normal" fill="#1a1a1a" stroke="#1a1a1a" stroke-width="0.3" >0.20</text>
<line x1="533.75" y1="404.00" x2="537.35" y2="404.00" stroke="#3c3c3c" stroke-width="1.3" stroke-linecap="butt"/>
<text transform="translate(531.05,406.70) scale(0.810,1)" text-anchor="end" font-size="9.4" font-weight="normal" font-style="normal" fill="#1a1a1a" stroke="#1a1a1a" stroke-width="0.3" >0.15</text>
<line x1="533.75" y1="440.75" x2="537.35" y2="440.75" stroke="#3c3c3c" stroke-width="1.3" stroke-linecap="butt"/>
<text transform="translate(531.05,443.45) scale(0.810,1)" text-anchor="end" font-size="9.4" font-weight="normal" font-style="normal" fill="#1a1a1a" stroke="#1a1a1a" stroke-width="0.3" >0.10</text>
<line x1="533.75" y1="477.25" x2="537.35" y2="477.25" stroke="#3c3c3c" stroke-width="1.3" stroke-linecap="butt"/>
<text transform="translate(531.05,479.95) scale(0.810,1)" text-anchor="end" font-size="9.4" font-weight="normal" font-style="normal" fill="#1a1a1a" stroke="#1a1a1a" stroke-width="0.3" >0.05</text>
<line x1="533.75" y1="514.00" x2="537.35" y2="514.00" stroke="#3c3c3c" stroke-width="1.3" stroke-linecap="butt"/>
<text transform="translate(531.05,516.70) scale(0.810,1)" text-anchor="end" font-size="9.4" font-weight="normal" font-style="normal" fill="#1a1a1a" stroke="#1a1a1a" stroke-width="0.3" >0.00</text>
<line x1="533.75" y1="514.00" x2="659.70" y2="514.00" stroke="#3c3c3c" stroke-width="1.2" stroke-linecap="butt"/>
<rect x="557.75" y="455.00" width="14.85" height="59.00" fill="#dddddd" stroke="#4a4a4a" stroke-width="1"/>
<line x1="557.25" y1="455.10" x2="573.10" y2="455.10" stroke="#333" stroke-width="1.15" stroke-linecap="butt"/>
<line x1="565.17" y1="439.00" x2="565.17" y2="454.50" stroke="#2a2a2a" stroke-width="1.1" stroke-linecap="butt"/>
<line x1="562.47" y1="439.60" x2="567.88" y2="439.60" stroke="#2a2a2a" stroke-width="1.3" stroke-linecap="butt"/>
<rect x="574.75" y="475.50" width="14.60" height="38.50" fill="url(#hatch)" stroke="#4a4a4a" stroke-width="1"/>
<line x1="574.25" y1="475.60" x2="589.85" y2="475.60" stroke="#333" stroke-width="1.15" stroke-linecap="butt"/>
<line x1="582.05" y1="459.00" x2="582.05" y2="475.00" stroke="#2a2a2a" stroke-width="1.1" stroke-linecap="butt"/>
<line x1="579.35" y1="459.60" x2="584.75" y2="459.60" stroke="#2a2a2a" stroke-width="1.3" stroke-linecap="butt"/>
<rect x="615.75" y="383.75" width="14.85" height="130.25" fill="#dddddd" stroke="#4a4a4a" stroke-width="1"/>
<line x1="615.25" y1="383.85" x2="631.10" y2="383.85" stroke="#333" stroke-width="1.15" stroke-linecap="butt"/>
<line x1="623.17" y1="362.50" x2="623.17" y2="383.25" stroke="#2a2a2a" stroke-width="1.1" stroke-linecap="butt"/>
<line x1="620.47" y1="363.10" x2="625.88" y2="363.10" stroke="#2a2a2a" stroke-width="1.3" stroke-linecap="butt"/>
<rect x="632.50" y="472.75" width="14.85" height="41.25" fill="url(#hatch)" stroke="#4a4a4a" stroke-width="1"/>
<line x1="632.00" y1="472.85" x2="647.85" y2="472.85" stroke="#333" stroke-width="1.15" stroke-linecap="butt"/>
<line x1="639.92" y1="468.00" x2="639.92" y2="472.25" stroke="#2a2a2a" stroke-width="1.1" stroke-linecap="butt"/>
<line x1="637.22" y1="468.60" x2="642.62" y2="468.60" stroke="#2a2a2a" stroke-width="1.3" stroke-linecap="butt"/>
<path d="M621.25,357.00 L621.25,352.50 L643.00,352.50 L643.00,357.00" fill="none" stroke="#1e1e1e" stroke-width="1.7" stroke-linejoin="round"/>
<polygon points="627.27,344.60 627.96,346.25 629.75,346.40 628.39,347.56 628.80,349.30 627.27,348.37 625.75,349.30 626.16,347.56 624.80,346.40 626.59,346.25" fill="#222"/>
<polygon points="632.12,344.60 632.81,346.25 634.60,346.40 633.24,347.56 633.65,349.30 632.12,348.37 630.60,349.30 631.01,347.56 629.65,346.40 631.44,346.25" fill="#222"/>
<polygon points="636.98,344.60 637.66,346.25 639.45,346.40 638.09,347.56 638.50,349.30 636.98,348.37 635.45,349.30 635.86,347.56 634.50,346.40 636.29,346.25" fill="#222"/>
<path d="M570.50,343.00 L570.50,338.50 L624.75,338.50 L624.75,343.00" fill="none" stroke="#1e1e1e" stroke-width="1.7" stroke-linejoin="round"/>
<text transform="translate(596.75,335.00) scale(0.900,1)" text-anchor="middle" font-size="14.0" font-weight="normal" font-style="normal" fill="#1e1e1e" stroke="#1e1e1e" stroke-width="0.3" >c</text>
<text transform="translate(575.50,527.40) scale(0.870,1)" text-anchor="middle" font-size="11.0" font-weight="normal" font-style="normal" fill="#1a1a1a" stroke="#1a1a1a" stroke-width="0.3" >control</text>
<text transform="translate(632.25,527.40) scale(0.870,1)" text-anchor="middle" font-size="11.0" font-weight="normal" font-style="normal" fill="#1a1a1a" stroke="#1a1a1a" stroke-width="0.3" >salt</text>
<text transform="translate(584.12,554.01) scale(1.048,1)" text-anchor="start" font-size="20.5" font-weight="normal" font-style="normal" fill="#1a1a1a" stroke="#1a1a1a" stroke-width="0.3" >(h)</text>
<text transform="translate(86.96,584.12) scale(0.883,1)" text-anchor="start" font-size="13.7" font-weight="normal" font-style="normal" fill="#1a1a1a" stroke="#1a1a1a" stroke-width="0.3" >DEG 18</text>
<text transform="translate(12.60,703.40) rotate(-90) scale(0.8,1)" text-anchor="middle" font-size="12.2" fill="#1a1a1a" stroke="#1a1a1a" stroke-width="0.2">mRNA abundance</text>
<line x1="38.25" y1="634.00" x2="38.25" y2="809.50" stroke="#3c3c3c" stroke-width="1.2" stroke-linecap="butt"/>
<line x1="38.25" y1="634.00" x2="41.85" y2="634.00" stroke="#3c3c3c" stroke-width="1.3" stroke-linecap="butt"/>
<text transform="translate(35.55,636.70) scale(0.810,1)" text-anchor="end" font-size="9.4" font-weight="normal" font-style="normal" fill="#1a1a1a" stroke="#1a1a1a" stroke-width="0.3" >0.018</text>
<line x1="38.25" y1="653.25" x2="41.85" y2="653.25" stroke="#3c3c3c" stroke-width="1.3" stroke-linecap="butt"/>
<text transform="translate(35.55,655.95) scale(0.810,1)" text-anchor="end" font-size="9.4" font-weight="normal" font-style="normal" fill="#1a1a1a" stroke="#1a1a1a" stroke-width="0.3" >0.016</text>
<line x1="38.25" y1="672.50" x2="41.85" y2="672.50" stroke="#3c3c3c" stroke-width="1.3" stroke-linecap="butt"/>
<text transform="translate(35.55,675.20) scale(0.810,1)" text-anchor="end" font-size="9.4" font-weight="normal" font-style="normal" fill="#1a1a1a" stroke="#1a1a1a" stroke-width="0.3" >0.014</text>
<line x1="38.25" y1="691.75" x2="41.85" y2="691.75" stroke="#3c3c3c" stroke-width="1.3" stroke-linecap="butt"/>
<text transform="translate(35.55,694.45) scale(0.810,1)" text-anchor="end" font-size="9.4" font-weight="normal" font-style="normal" fill="#1a1a1a" stroke="#1a1a1a" stroke-width="0.3" >0.012</text>
<line x1="38.25" y1="711.25" x2="41.85" y2="711.25" stroke="#3c3c3c" stroke-width="1.3" stroke-linecap="butt"/>
<text transform="translate(35.55,713.95) scale(0.810,1)" text-anchor="end" font-size="9.4" font-weight="normal" font-style="normal" fill="#1a1a1a" stroke="#1a1a1a" stroke-width="0.3" >0.010</text>
<line x1="38.25" y1="730.75" x2="41.85" y2="730.75" stroke="#3c3c3c" stroke-width="1.3" stroke-linecap="butt"/>
<text transform="translate(35.55,733.45) scale(0.810,1)" text-anchor="end" font-size="9.4" font-weight="normal" font-style="normal" fill="#1a1a1a" stroke="#1a1a1a" stroke-width="0.3" >0.008</text>
<line x1="38.25" y1="750.25" x2="41.85" y2="750.25" stroke="#3c3c3c" stroke-width="1.3" stroke-linecap="butt"/>
<text transform="translate(35.55,752.95) scale(0.810,1)" text-anchor="end" font-size="9.4" font-weight="normal" font-style="normal" fill="#1a1a1a" stroke="#1a1a1a" stroke-width="0.3" >0.006</text>
<line x1="38.25" y1="769.75" x2="41.85" y2="769.75" stroke="#3c3c3c" stroke-width="1.3" stroke-linecap="butt"/>
<text transform="translate(35.55,772.45) scale(0.810,1)" text-anchor="end" font-size="9.4" font-weight="normal" font-style="normal" fill="#1a1a1a" stroke="#1a1a1a" stroke-width="0.3" >0.004</text>
<line x1="38.25" y1="789.25" x2="41.85" y2="789.25" stroke="#3c3c3c" stroke-width="1.3" stroke-linecap="butt"/>
<text transform="translate(35.55,791.95) scale(0.810,1)" text-anchor="end" font-size="9.4" font-weight="normal" font-style="normal" fill="#1a1a1a" stroke="#1a1a1a" stroke-width="0.3" >0.002</text>
<line x1="38.25" y1="809.00" x2="41.85" y2="809.00" stroke="#3c3c3c" stroke-width="1.3" stroke-linecap="butt"/>
<text transform="translate(35.55,811.70) scale(0.810,1)" text-anchor="end" font-size="9.4" font-weight="normal" font-style="normal" fill="#1a1a1a" stroke="#1a1a1a" stroke-width="0.3" >0.000</text>
<line x1="38.25" y1="809.00" x2="164.50" y2="809.00" stroke="#3c3c3c" stroke-width="1.2" stroke-linecap="butt"/>
<rect x="63.00" y="730.75" width="14.10" height="78.25" fill="#dddddd" stroke="#4a4a4a" stroke-width="1"/>
<line x1="62.50" y1="730.85" x2="77.60" y2="730.85" stroke="#333" stroke-width="1.15" stroke-linecap="butt"/>
<line x1="70.05" y1="720.25" x2="70.05" y2="730.25" stroke="#2a2a2a" stroke-width="1.1" stroke-linecap="butt"/>
<line x1="67.35" y1="720.85" x2="72.75" y2="720.85" stroke="#2a2a2a" stroke-width="1.3" stroke-linecap="butt"/>
<rect x="78.75" y="749.50" width="14.60" height="59.50" fill="url(#hatch)" stroke="#4a4a4a" stroke-width="1"/>
<line x1="78.25" y1="749.60" x2="93.85" y2="749.60" stroke="#333" stroke-width="1.15" stroke-linecap="butt"/>
<line x1="86.05" y1="738.25" x2="86.05" y2="749.00" stroke="#2a2a2a" stroke-width="1.1" stroke-linecap="butt"/>
<line x1="83.35" y1="738.85" x2="88.75" y2="738.85" stroke="#2a2a2a" stroke-width="1.3" stroke-linecap="butt"/>
<rect x="122.25" y="672.00" width="14.10" height="137.00" fill="#dddddd" stroke="#4a4a4a" stroke-width="1"/>
<line x1="121.75" y1="672.10" x2="136.85" y2="672.10" stroke="#333" stroke-width="1.15" stroke-linecap="butt"/>
<line x1="129.30" y1="653.00" x2="129.30" y2="671.50" stroke="#2a2a2a" stroke-width="1.1" stroke-linecap="butt"/>
<line x1="126.60" y1="653.60" x2="132.00" y2="653.60" stroke="#2a2a2a" stroke-width="1.3" stroke-linecap="butt"/>
<rect x="138.00" y="789.00" width="14.10" height="20.00" fill="url(#hatch)" stroke="#4a4a4a" stroke-width="1"/>
<line x1="137.50" y1="789.10" x2="152.60" y2="789.10" stroke="#333" stroke-width="1.15" stroke-linecap="butt"/>
<line x1="145.05" y1="785.25" x2="145.05" y2="788.50" stroke="#2a2a2a" stroke-width="1.1" stroke-linecap="butt"/>
<line x1="142.35" y1="785.85" x2="147.75" y2="785.85" stroke="#2a2a2a" stroke-width="1.3" stroke-linecap="butt"/>
<path d="M128.00,648.50 L128.00,644.50 L149.25,644.50 L149.25,648.50" fill="none" stroke="#1e1e1e" stroke-width="1.7" stroke-linejoin="round"/>
<polygon points="133.78,636.60 134.46,638.25 136.25,638.40 134.89,639.56 135.30,641.30 133.78,640.37 132.25,641.30 132.66,639.56 131.30,638.40 133.09,638.25" fill="#222"/>
<polygon points="138.62,636.60 139.31,638.25 141.10,638.40 139.74,639.56 140.15,641.30 138.62,640.37 137.10,641.30 137.51,639.56 136.15,638.40 137.94,638.25" fill="#222"/>
<polygon points="143.47,636.60 144.16,638.25 145.95,638.40 144.59,639.56 145.00,641.30 143.47,640.37 141.95,641.30 142.36,639.56 141.00,638.40 142.79,638.25" fill="#222"/>
<path d="M75.20,637.20 L75.20,632.90 L129.20,632.90 L129.20,637.20" fill="none" stroke="#1e1e1e" stroke-width="1.7" stroke-linejoin="round"/>
<text transform="translate(101.25,629.50) scale(0.900,1)" text-anchor="middle" font-size="14.0" font-weight="normal" font-style="normal" fill="#1e1e1e" stroke="#1e1e1e" stroke-width="0.3" >b</text>
<path d="M93.00,619.00 L93.00,614.50 L147.50,614.50 L147.50,619.00" fill="none" stroke="#1e1e1e" stroke-width="1.7" stroke-linejoin="round"/>
<text transform="translate(119.50,611.00) scale(0.900,1)" text-anchor="middle" font-size="14.0" font-weight="normal" font-style="normal" fill="#1e1e1e" stroke="#1e1e1e" stroke-width="0.3" >b</text>
<text transform="translate(74.25,822.00) scale(0.870,1)" text-anchor="middle" font-size="11.0" font-weight="normal" font-style="normal" fill="#1a1a1a" stroke="#1a1a1a" stroke-width="0.3" >control</text>
<text transform="translate(136.25,822.00) scale(0.870,1)" text-anchor="middle" font-size="11.0" font-weight="normal" font-style="normal" fill="#1a1a1a" stroke="#1a1a1a" stroke-width="0.3" >salt</text>
<text transform="translate(96.53,840.61) scale(1.057,1)" text-anchor="start" font-size="18.57" font-weight="normal" font-style="normal" fill="#1a1a1a" stroke="#1a1a1a" stroke-width="0.3" >(i)</text>
<text transform="translate(251.45,584.21) scale(0.881,1)" text-anchor="start" font-size="13.84" font-weight="normal" font-style="normal" fill="#1a1a1a" stroke="#1a1a1a" stroke-width="0.3" >DEG 19</text>
<line x1="251.40" y1="586.40" x2="294.40" y2="586.40" stroke="#111" stroke-width="1.2" stroke-linecap="butt"/>
<text transform="translate(186.60,703.40) rotate(-90) scale(0.8,1)" text-anchor="middle" font-size="12.2" fill="#1a1a1a" stroke="#1a1a1a" stroke-width="0.2">mRNA abundance</text>
<line x1="206.50" y1="625.25" x2="206.50" y2="809.50" stroke="#3c3c3c" stroke-width="1.2" stroke-linecap="butt"/>
<line x1="206.50" y1="625.25" x2="210.10" y2="625.25" stroke="#3c3c3c" stroke-width="1.3" stroke-linecap="butt"/>
<text transform="translate(203.80,627.95) scale(0.810,1)" text-anchor="end" font-size="9.4" font-weight="normal" font-style="normal" fill="#1a1a1a" stroke="#1a1a1a" stroke-width="0.3" >0.14</text>
<line x1="206.50" y1="651.50" x2="210.10" y2="651.50" stroke="#3c3c3c" stroke-width="1.3" stroke-linecap="butt"/>
<text transform="translate(203.80,654.20) scale(0.810,1)" text-anchor="end" font-size="9.4" font-weight="normal" font-style="normal" fill="#1a1a1a" stroke="#1a1a1a" stroke-width="0.3" >0.12</text>
<line x1="206.50" y1="677.75" x2="210.10" y2="677.75" stroke="#3c3c3c" stroke-width="1.3" stroke-linecap="butt"/>
<text transform="translate(203.80,680.45) scale(0.810,1)" text-anchor="end" font-size="9.4" font-weight="normal" font-style="normal" fill="#1a1a1a" stroke="#1a1a1a" stroke-width="0.3" >0.10</text>
<line x1="206.50" y1="704.00" x2="210.10" y2="704.00" stroke="#3c3c3c" stroke-width="1.3" stroke-linecap="butt"/>
<text transform="translate(203.80,706.70) scale(0.810,1)" text-anchor="end" font-size="9.4" font-weight="normal" font-style="normal" fill="#1a1a1a" stroke="#1a1a1a" stroke-width="0.3" >0.08</text>
<line x1="206.50" y1="730.25" x2="210.10" y2="730.25" stroke="#3c3c3c" stroke-width="1.3" stroke-linecap="butt"/>
<text transform="translate(203.80,732.95) scale(0.810,1)" text-anchor="end" font-size="9.4" font-weight="normal" font-style="normal" fill="#1a1a1a" stroke="#1a1a1a" stroke-width="0.3" >0.06</text>
<line x1="206.50" y1="756.50" x2="210.10" y2="756.50" stroke="#3c3c3c" stroke-width="1.3" stroke-linecap="butt"/>
<text transform="translate(203.80,759.20) scale(0.810,1)" text-anchor="end" font-size="9.4" font-weight="normal" font-style="normal" fill="#1a1a1a" stroke="#1a1a1a" stroke-width="0.3" >0.04</text>
<line x1="206.50" y1="782.75" x2="210.10" y2="782.75" stroke="#3c3c3c" stroke-width="1.3" stroke-linecap="butt"/>
<text transform="translate(203.80,785.45) scale(0.810,1)" text-anchor="end" font-size="9.4" font-weight="normal" font-style="normal" fill="#1a1a1a" stroke="#1a1a1a" stroke-width="0.3" >0.02</text>
<line x1="206.50" y1="809.00" x2="210.10" y2="809.00" stroke="#3c3c3c" stroke-width="1.3" stroke-linecap="butt"/>
<text transform="translate(203.80,811.70) scale(0.810,1)" text-anchor="end" font-size="9.4" font-weight="normal" font-style="normal" fill="#1a1a1a" stroke="#1a1a1a" stroke-width="0.3" >0.00</text>
<line x1="206.50" y1="809.00" x2="333.00" y2="809.00" stroke="#3c3c3c" stroke-width="1.2" stroke-linecap="butt"/>
<line x1="224.00" y1="809.00" x2="231.50" y2="809.00" stroke="#ffffff" stroke-width="1.4" stroke-linecap="butt"/>
<line x1="224.00" y1="809.00" x2="231.50" y2="809.00" stroke="#8c8c8c" stroke-width="1.2" stroke-linecap="butt"/>
<rect x="232.00" y="774.50" width="14.60" height="34.50" fill="#dddddd" stroke="#4a4a4a" stroke-width="1"/>
<line x1="231.50" y1="774.60" x2="247.10" y2="774.60" stroke="#333" stroke-width="1.15" stroke-linecap="butt"/>
<line x1="239.30" y1="769.50" x2="239.30" y2="774.00" stroke="#2a2a2a" stroke-width="1.1" stroke-linecap="butt"/>
<line x1="236.60" y1="770.10" x2="242.00" y2="770.10" stroke="#2a2a2a" stroke-width="1.3" stroke-linecap="butt"/>
<rect x="249.00" y="768.50" width="14.60" height="40.50" fill="url(#hatch)" stroke="#4a4a4a" stroke-width="1"/>
<line x1="248.50" y1="768.60" x2="264.10" y2="768.60" stroke="#333" stroke-width="1.15" stroke-linecap="butt"/>
<line x1="256.30" y1="753.00" x2="256.30" y2="768.00" stroke="#2a2a2a" stroke-width="1.1" stroke-linecap="butt"/>
<line x1="253.60" y1="753.60" x2="259.00" y2="753.60" stroke="#2a2a2a" stroke-width="1.3" stroke-linecap="butt"/>
<rect x="287.00" y="644.50" width="14.60" height="164.50" fill="#dddddd" stroke="#4a4a4a" stroke-width="1"/>
<line x1="286.50" y1="644.60" x2="302.10" y2="644.60" stroke="#333" stroke-width="1.15" stroke-linecap="butt"/>
<line x1="294.30" y1="634.75" x2="294.30" y2="644.00" stroke="#2a2a2a" stroke-width="1.1" stroke-linecap="butt"/>
<line x1="291.60" y1="635.35" x2="297.00" y2="635.35" stroke="#2a2a2a" stroke-width="1.3" stroke-linecap="butt"/>
<rect x="303.50" y="764.00" width="15.10" height="45.00" fill="url(#hatch)" stroke="#4a4a4a" stroke-width="1"/>
<line x1="303.00" y1="764.10" x2="319.10" y2="764.10" stroke="#333" stroke-width="1.15" stroke-linecap="butt"/>
<line x1="311.05" y1="751.50" x2="311.05" y2="763.50" stroke="#2a2a2a" stroke-width="1.1" stroke-linecap="butt"/>
<line x1="308.35" y1="752.10" x2="313.75" y2="752.10" stroke="#2a2a2a" stroke-width="1.3" stroke-linecap="butt"/>
<path d="M293.70,630.00 L293.70,625.90 L314.90,625.90 L314.90,630.00" fill="none" stroke="#1e1e1e" stroke-width="1.7" stroke-linejoin="round"/>
<polygon points="299.45,618.00 300.14,619.65 301.92,619.80 300.56,620.96 300.98,622.70 299.45,621.77 297.92,622.70 298.34,620.96 296.98,619.80 298.76,619.65" fill="#222"/>
<polygon points="304.30,618.00 304.99,619.65 306.77,619.80 305.41,620.96 305.83,622.70 304.30,621.77 302.77,622.70 303.19,620.96 301.83,619.80 303.61,619.65" fill="#222"/>
<polygon points="309.15,618.00 309.84,619.65 311.62,619.80 310.26,620.96 310.68,622.70 309.15,621.77 307.62,622.70 308.04,620.96 306.68,619.80 308.46,619.65" fill="#222"/>
<path d="M239.10,623.00 L239.10,618.70 L293.10,618.70 L293.10,623.00" fill="none" stroke="#1e1e1e" stroke-width="1.7" stroke-linejoin="round"/>
<text transform="translate(265.50,615.50) scale(0.900,1)" text-anchor="middle" font-size="14.0" font-weight="normal" font-style="normal" fill="#1e1e1e" stroke="#1e1e1e" stroke-width="0.3" >c</text>
<text transform="translate(253.00,821.80) scale(0.870,1)" text-anchor="middle" font-size="11.0" font-weight="normal" font-style="normal" fill="#1a1a1a" stroke="#1a1a1a" stroke-width="0.3" >control</text>
<text transform="translate(304.25,821.80) scale(0.870,1)" text-anchor="middle" font-size="11.0" font-weight="normal" font-style="normal" fill="#1a1a1a" stroke="#1a1a1a" stroke-width="0.3" >salt</text>
<text transform="translate(260.03,840.40) scale(1.058,1)" text-anchor="start" font-size="18.56" font-weight="normal" font-style="normal" fill="#1a1a1a" stroke="#1a1a1a" stroke-width="0.3" >(j)</text>
<text transform="translate(416.26,584.21) scale(0.874,1)" text-anchor="start" font-size="13.84" font-weight="normal" font-style="normal" fill="#1a1a1a" stroke="#1a1a1a" stroke-width="0.3" >DEG 24</text>
<text transform="translate(352.60,703.40) rotate(-90) scale(0.8,1)" text-anchor="middle" font-size="12.2" fill="#1a1a1a" stroke="#1a1a1a" stroke-width="0.2">mRNA abundance</text>
<line x1="370.75" y1="622.25" x2="370.75" y2="709.40" stroke="#3c3c3c" stroke-width="1.2" stroke-linecap="butt"/>
<line x1="370.75" y1="622.25" x2="374.35" y2="622.25" stroke="#3c3c3c" stroke-width="1.3" stroke-linecap="butt"/>
<text transform="translate(368.05,625.00) scale(0.810,1)" text-anchor="end" font-size="9.4" font-weight="normal" font-style="normal" fill="#1a1a1a" stroke="#1a1a1a" stroke-width="0.3" >35</text>
<line x1="370.75" y1="666.50" x2="374.35" y2="666.50" stroke="#3c3c3c" stroke-width="1.3" stroke-linecap="butt"/>
<text transform="translate(368.05,669.25) scale(0.810,1)" text-anchor="end" font-size="9.4" font-weight="normal" font-style="normal" fill="#1a1a1a" stroke="#1a1a1a" stroke-width="0.3" >30</text>
<text transform="translate(367.05,717.50) scale(0.810,1)" text-anchor="end" font-size="9.4" font-weight="normal" font-style="normal" fill="#1a1a1a" stroke="#1a1a1a" stroke-width="0.3" >25</text>
<line x1="367.60" y1="713.90" x2="374.20" y2="707.60" stroke="#222" stroke-width="1.4" stroke-linecap="butt"/>
<line x1="370.75" y1="722.10" x2="370.75" y2="809.50" stroke="#3c3c3c" stroke-width="1.2" stroke-linecap="butt"/>
<line x1="368.10" y1="724.30" x2="374.60" y2="718.20" stroke="#222" stroke-width="1.4" stroke-linecap="butt"/>
<text transform="translate(367.35,728.80) scale(0.810,1)" text-anchor="end" font-size="9.4" font-weight="normal" font-style="normal" fill="#1a1a1a" stroke="#1a1a1a" stroke-width="0.3" >10</text>
<line x1="370.75" y1="766.00" x2="374.35" y2="766.00" stroke="#3c3c3c" stroke-width="1.3" stroke-linecap="butt"/>
<text transform="translate(368.05,768.75) scale(0.810,1)" text-anchor="end" font-size="9.4" font-weight="normal" font-style="normal" fill="#1a1a1a" stroke="#1a1a1a" stroke-width="0.3" >5</text>
<line x1="370.75" y1="809.50" x2="374.35" y2="809.50" stroke="#3c3c3c" stroke-width="1.3" stroke-linecap="butt"/>
<text transform="translate(368.05,812.25) scale(0.810,1)" text-anchor="end" font-size="9.4" font-weight="normal" font-style="normal" fill="#1a1a1a" stroke="#1a1a1a" stroke-width="0.3" >0</text>
<line x1="370.75" y1="809.50" x2="498.00" y2="809.50" stroke="#3c3c3c" stroke-width="1.2" stroke-linecap="butt"/>
<rect x="395.00" y="668.25" width="15.35" height="42.00" fill="#dddddd" stroke="#4a4a4a" stroke-width="1"/>
<line x1="394.50" y1="668.35" x2="410.85" y2="668.35" stroke="#333" stroke-width="1.15" stroke-linecap="butt"/>
<line x1="402.68" y1="665.75" x2="402.68" y2="667.75" stroke="#2a2a2a" stroke-width="1.1" stroke-linecap="butt"/>
<line x1="399.98" y1="666.35" x2="405.38" y2="666.35" stroke="#2a2a2a" stroke-width="1.3" stroke-linecap="butt"/>
<rect x="412.50" y="694.00" width="15.85" height="16.25" fill="url(#hatch)" stroke="#4a4a4a" stroke-width="1"/>
<line x1="412.00" y1="694.10" x2="428.85" y2="694.10" stroke="#333" stroke-width="1.15" stroke-linecap="butt"/>
<line x1="420.43" y1="674.00" x2="420.43" y2="693.50" stroke="#2a2a2a" stroke-width="1.1" stroke-linecap="butt"/>
<line x1="417.73" y1="674.60" x2="423.12" y2="674.60" stroke="#2a2a2a" stroke-width="1.3" stroke-linecap="butt"/>
<rect x="395.00" y="722.00" width="15.35" height="87.50" fill="#dddddd" stroke="#4a4a4a" stroke-width="1"/>
<rect x="412.50" y="722.00" width="15.85" height="87.50" fill="url(#hatch)" stroke="#4a4a4a" stroke-width="1"/>
<rect x="453.75" y="759.50" width="15.10" height="50.00" fill="#dddddd" stroke="#4a4a4a" stroke-width="1"/>
<line x1="453.25" y1="759.60" x2="469.35" y2="759.60" stroke="#333" stroke-width="1.15" stroke-linecap="butt"/>
<line x1="461.30" y1="754.50" x2="461.30" y2="759.00" stroke="#2a2a2a" stroke-width="1.1" stroke-linecap="butt"/>
<line x1="458.60" y1="755.10" x2="464.00" y2="755.10" stroke="#2a2a2a" stroke-width="1.3" stroke-linecap="butt"/>
<rect x="470.75" y="795.75" width="15.10" height="13.75" fill="url(#hatch)" stroke="#4a4a4a" stroke-width="1"/>
<line x1="470.25" y1="795.85" x2="486.35" y2="795.85" stroke="#333" stroke-width="1.15" stroke-linecap="butt"/>
<line x1="478.30" y1="792.25" x2="478.30" y2="795.25" stroke="#2a2a2a" stroke-width="1.1" stroke-linecap="butt"/>
<line x1="475.60" y1="792.85" x2="481.00" y2="792.85" stroke="#2a2a2a" stroke-width="1.3" stroke-linecap="butt"/>
<path d="M460.00,748.50 L460.00,744.00 L481.25,744.00 L481.25,748.50" fill="none" stroke="#1e1e1e" stroke-width="1.7" stroke-linejoin="round"/>
<polygon points="465.77,736.10 466.46,737.75 468.25,737.90 466.89,739.06 467.30,740.80 465.77,739.87 464.25,740.80 464.66,739.06 463.30,737.90 465.09,737.75" fill="#222"/>
<polygon points="470.62,736.10 471.31,737.75 473.10,737.90 471.74,739.06 472.15,740.80 470.62,739.87 469.10,740.80 469.51,739.06 468.15,737.90 469.94,737.75" fill="#222"/>
<polygon points="475.48,736.10 476.16,737.75 477.95,737.90 476.59,739.06 477.00,740.80 475.48,739.87 473.95,740.80 474.36,739.06 473.00,737.90 474.79,737.75" fill="#222"/>
<path d="M403.75,659.00 L403.75,654.60 L457.50,654.60 L457.50,659.00" fill="none" stroke="#1e1e1e" stroke-width="1.7" stroke-linejoin="round"/>
<text transform="translate(430.00,650.80) scale(0.900,1)" text-anchor="middle" font-size="14.0" font-weight="normal" font-style="normal" fill="#1e1e1e" stroke="#1e1e1e" stroke-width="0.3" >c</text>
<path d="M417.50,641.50 L417.50,637.00 L471.25,637.00 L471.25,641.50" fill="none" stroke="#1e1e1e" stroke-width="1.7" stroke-linejoin="round"/>
<text transform="translate(443.25,633.50) scale(0.900,1)" text-anchor="middle" font-size="14.0" font-weight="normal" font-style="normal" fill="#1e1e1e" stroke="#1e1e1e" stroke-width="0.3" >c</text>
<text transform="translate(414.00,822.20) scale(0.870,1)" text-anchor="middle" font-size="11.0" font-weight="normal" font-style="normal" fill="#1a1a1a" stroke="#1a1a1a" stroke-width="0.3" >control</text>
<text transform="translate(468.25,822.20) scale(0.870,1)" text-anchor="middle" font-size="11.0" font-weight="normal" font-style="normal" fill="#1a1a1a" stroke="#1a1a1a" stroke-width="0.3" >salt</text>
<text transform="translate(430.92,840.61) scale(1.065,1)" text-anchor="start" font-size="18.57" font-weight="normal" font-style="normal" fill="#1a1a1a" stroke="#1a1a1a" stroke-width="0.3" >(k)</text>
<text transform="translate(581.25,584.21) scale(0.884,1)" text-anchor="start" font-size="13.84" font-weight="normal" font-style="normal" fill="#1a1a1a" stroke="#1a1a1a" stroke-width="0.3" >DEG 25</text>
<line x1="581.40" y1="586.20" x2="624.60" y2="586.20" stroke="#111" stroke-width="1.2" stroke-linecap="butt"/>
<text transform="translate(512.10,703.40) rotate(-90) scale(0.8,1)" text-anchor="middle" font-size="12.2" fill="#1a1a1a" stroke="#1a1a1a" stroke-width="0.2">mRNA abundance</text>
<line x1="531.75" y1="631.50" x2="531.75" y2="809.50" stroke="#3c3c3c" stroke-width="1.2" stroke-linecap="butt"/>
<line x1="531.75" y1="631.50" x2="535.35" y2="631.50" stroke="#3c3c3c" stroke-width="1.3" stroke-linecap="butt"/>
<text transform="translate(529.05,634.20) scale(0.810,1)" text-anchor="end" font-size="9.4" font-weight="normal" font-style="normal" fill="#1a1a1a" stroke="#1a1a1a" stroke-width="0.3" >0.12</text>
<line x1="531.75" y1="661.00" x2="535.35" y2="661.00" stroke="#3c3c3c" stroke-width="1.3" stroke-linecap="butt"/>
<text transform="translate(529.05,663.70) scale(0.810,1)" text-anchor="end" font-size="9.4" font-weight="normal" font-style="normal" fill="#1a1a1a" stroke="#1a1a1a" stroke-width="0.3" >0.10</text>
<line x1="531.75" y1="690.75" x2="535.35" y2="690.75" stroke="#3c3c3c" stroke-width="1.3" stroke-linecap="butt"/>
<text transform="translate(529.05,693.45) scale(0.810,1)" text-anchor="end" font-size="9.4" font-weight="normal" font-style="normal" fill="#1a1a1a" stroke="#1a1a1a" stroke-width="0.3" >0.08</text>
<line x1="531.75" y1="720.25" x2="535.35" y2="720.25" stroke="#3c3c3c" stroke-width="1.3" stroke-linecap="butt"/>
<text transform="translate(529.05,722.95) scale(0.810,1)" text-anchor="end" font-size="9.4" font-weight="normal" font-style="normal" fill="#1a1a1a" stroke="#1a1a1a" stroke-width="0.3" >0.06</text>
<line x1="531.75" y1="750.00" x2="535.35" y2="750.00" stroke="#3c3c3c" stroke-width="1.3" stroke-linecap="butt"/>
<text transform="translate(529.05,752.70) scale(0.810,1)" text-anchor="end" font-size="9.4" font-weight="normal" font-style="normal" fill="#1a1a1a" stroke="#1a1a1a" stroke-width="0.3" >0.04</text>
<line x1="531.75" y1="779.50" x2="535.35" y2="779.50" stroke="#3c3c3c" stroke-width="1.3" stroke-linecap="butt"/>
<text transform="translate(529.05,782.20) scale(0.810,1)" text-anchor="end" font-size="9.4" font-weight="normal" font-style="normal" fill="#1a1a1a" stroke="#1a1a1a" stroke-width="0.3" >0.02</text>
<line x1="531.75" y1="809.00" x2="535.35" y2="809.00" stroke="#3c3c3c" stroke-width="1.3" stroke-linecap="butt"/>
<text transform="translate(529.05,811.70) scale(0.810,1)" text-anchor="end" font-size="9.4" font-weight="normal" font-style="normal" fill="#1a1a1a" stroke="#1a1a1a" stroke-width="0.3" >0.00</text>
<line x1="531.75" y1="809.00" x2="657.50" y2="809.00" stroke="#3c3c3c" stroke-width="1.2" stroke-linecap="butt"/>
<rect x="555.50" y="679.00" width="15.10" height="130.00" fill="#dddddd" stroke="#4a4a4a" stroke-width="1"/>
<line x1="555.00" y1="679.10" x2="571.10" y2="679.10" stroke="#333" stroke-width="1.15" stroke-linecap="butt"/>
<line x1="563.05" y1="665.50" x2="563.05" y2="678.50" stroke="#2a2a2a" stroke-width="1.1" stroke-linecap="butt"/>
<line x1="560.35" y1="666.10" x2="565.75" y2="666.10" stroke="#2a2a2a" stroke-width="1.3" stroke-linecap="butt"/>
<rect x="572.25" y="701.25" width="14.60" height="107.75" fill="url(#hatch)" stroke="#4a4a4a" stroke-width="1"/>
<line x1="571.75" y1="701.35" x2="587.35" y2="701.35" stroke="#333" stroke-width="1.15" stroke-linecap="butt"/>
<line x1="579.55" y1="687.75" x2="579.55" y2="700.75" stroke="#2a2a2a" stroke-width="1.1" stroke-linecap="butt"/>
<line x1="576.85" y1="688.35" x2="582.25" y2="688.35" stroke="#2a2a2a" stroke-width="1.3" stroke-linecap="butt"/>
<rect x="614.00" y="688.75" width="14.60" height="120.25" fill="#dddddd" stroke="#4a4a4a" stroke-width="1"/>
<line x1="613.50" y1="688.85" x2="629.10" y2="688.85" stroke="#333" stroke-width="1.15" stroke-linecap="butt"/>
<line x1="621.30" y1="650.25" x2="621.30" y2="688.25" stroke="#2a2a2a" stroke-width="1.1" stroke-linecap="butt"/>
<line x1="618.60" y1="650.85" x2="624.00" y2="650.85" stroke="#2a2a2a" stroke-width="1.3" stroke-linecap="butt"/>
<rect x="630.25" y="759.50" width="14.60" height="49.50" fill="url(#hatch)" stroke="#4a4a4a" stroke-width="1"/>
<line x1="629.75" y1="759.60" x2="645.35" y2="759.60" stroke="#333" stroke-width="1.15" stroke-linecap="butt"/>
<line x1="637.55" y1="752.75" x2="637.55" y2="759.00" stroke="#2a2a2a" stroke-width="1.1" stroke-linecap="butt"/>
<line x1="634.85" y1="753.35" x2="640.25" y2="753.35" stroke="#2a2a2a" stroke-width="1.3" stroke-linecap="butt"/>
<path d="M619.20,645.50 L619.20,641.30 L640.40,641.30 L640.40,645.50" fill="none" stroke="#1e1e1e" stroke-width="1.7" stroke-linejoin="round"/>
<polygon points="628.30,633.40 628.99,635.05 630.77,635.20 629.41,636.36 629.83,638.10 628.30,637.17 626.77,638.10 627.19,636.36 625.83,635.20 627.61,635.05" fill="#222"/>
<path d="M585.00,631.00 L585.00,626.75 L639.75,626.75 L639.75,631.00" fill="none" stroke="#1e1e1e" stroke-width="1.7" stroke-linejoin="round"/>
<text transform="translate(611.25,622.50) scale(0.900,1)" text-anchor="middle" font-size="14.0" font-weight="normal" font-style="normal" fill="#1e1e1e" stroke="#1e1e1e" stroke-width="0.3" >c</text>
<text transform="translate(573.75,822.30) scale(0.870,1)" text-anchor="middle" font-size="11.0" font-weight="normal" font-style="normal" fill="#1a1a1a" stroke="#1a1a1a" stroke-width="0.3" >control</text>
<text transform="translate(628.50,822.30) scale(0.870,1)" text-anchor="middle" font-size="11.0" font-weight="normal" font-style="normal" fill="#1a1a1a" stroke="#1a1a1a" stroke-width="0.3" >salt</text>
<text transform="translate(591.53,840.61) scale(1.057,1)" text-anchor="start" font-size="18.57" font-weight="normal" font-style="normal" fill="#1a1a1a" stroke="#1a1a1a" stroke-width="0.3" >(l)</text>
<text transform="translate(86.27,883.92) scale(0.874,1)" text-anchor="start" font-size="13.7" font-weight="normal" font-style="normal" fill="#1a1a1a" stroke="#1a1a1a" stroke-width="0.3" >DEG 28</text>
<text transform="translate(13.00,1009.40) rotate(-90) scale(0.8,1)" text-anchor="middle" font-size="12.2" fill="#1a1a1a" stroke="#1a1a1a" stroke-width="0.2">mRNA abundance</text>
<line x1="40.00" y1="921.25" x2="40.00" y2="1103.70" stroke="#3c3c3c" stroke-width="1.2" stroke-linecap="butt"/>
<line x1="40.00" y1="921.25" x2="43.60" y2="921.25" stroke="#3c3c3c" stroke-width="1.3" stroke-linecap="butt"/>
<text transform="translate(37.30,923.95) scale(0.810,1)" text-anchor="end" font-size="9.4" font-weight="normal" font-style="normal" fill="#1a1a1a" stroke="#1a1a1a" stroke-width="0.3" >0.025</text>
<line x1="40.00" y1="958.00" x2="43.60" y2="958.00" stroke="#3c3c3c" stroke-width="1.3" stroke-linecap="butt"/>
<text transform="translate(37.30,960.70) scale(0.810,1)" text-anchor="end" font-size="9.4" font-weight="normal" font-style="normal" fill="#1a1a1a" stroke="#1a1a1a" stroke-width="0.3" >0.020</text>
<line x1="40.00" y1="994.25" x2="43.60" y2="994.25" stroke="#3c3c3c" stroke-width="1.3" stroke-linecap="butt"/>
<text transform="translate(37.30,996.95) scale(0.810,1)" text-anchor="end" font-size="9.4" font-weight="normal" font-style="normal" fill="#1a1a1a" stroke="#1a1a1a" stroke-width="0.3" >0.015</text>
<line x1="40.00" y1="1030.50" x2="43.60" y2="1030.50" stroke="#3c3c3c" stroke-width="1.3" stroke-linecap="butt"/>
<text transform="translate(37.30,1033.20) scale(0.810,1)" text-anchor="end" font-size="9.4" font-weight="normal" font-style="normal" fill="#1a1a1a" stroke="#1a1a1a" stroke-width="0.3" >0.010</text>
<line x1="40.00" y1="1066.75" x2="43.60" y2="1066.75" stroke="#3c3c3c" stroke-width="1.3" stroke-linecap="butt"/>
<text transform="translate(37.30,1069.45) scale(0.810,1)" text-anchor="end" font-size="9.4" font-weight="normal" font-style="normal" fill="#1a1a1a" stroke="#1a1a1a" stroke-width="0.3" >0.005</text>
<line x1="40.00" y1="1103.20" x2="43.60" y2="1103.20" stroke="#3c3c3c" stroke-width="1.3" stroke-linecap="butt"/>
<text transform="translate(37.30,1105.90) scale(0.810,1)" text-anchor="end" font-size="9.4" font-weight="normal" font-style="normal" fill="#1a1a1a" stroke="#1a1a1a" stroke-width="0.3" >0.000</text>
<line x1="40.00" y1="1103.20" x2="166.50" y2="1103.20" stroke="#3c3c3c" stroke-width="1.2" stroke-linecap="butt"/>
<rect x="63.75" y="951.75" width="15.10" height="151.45" fill="#dddddd" stroke="#4a4a4a" stroke-width="1"/>
<line x1="63.25" y1="951.85" x2="79.35" y2="951.85" stroke="#333" stroke-width="1.15" stroke-linecap="butt"/>
<line x1="71.30" y1="943.25" x2="71.30" y2="951.25" stroke="#2a2a2a" stroke-width="1.1" stroke-linecap="butt"/>
<line x1="68.60" y1="943.85" x2="74.00" y2="943.85" stroke="#2a2a2a" stroke-width="1.3" stroke-linecap="butt"/>
<rect x="81.00" y="960.00" width="14.60" height="143.20" fill="url(#hatch)" stroke="#4a4a4a" stroke-width="1"/>
<line x1="80.50" y1="960.10" x2="96.10" y2="960.10" stroke="#333" stroke-width="1.15" stroke-linecap="butt"/>
<line x1="88.30" y1="934.50" x2="88.30" y2="959.50" stroke="#2a2a2a" stroke-width="1.1" stroke-linecap="butt"/>
<line x1="85.60" y1="935.10" x2="91.00" y2="935.10" stroke="#2a2a2a" stroke-width="1.3" stroke-linecap="butt"/>
<rect x="119.75" y="973.00" width="15.35" height="130.20" fill="#dddddd" stroke="#4a4a4a" stroke-width="1"/>
<line x1="119.25" y1="973.10" x2="135.60" y2="973.10" stroke="#333" stroke-width="1.15" stroke-linecap="butt"/>
<line x1="127.42" y1="968.25" x2="127.42" y2="972.50" stroke="#2a2a2a" stroke-width="1.1" stroke-linecap="butt"/>
<line x1="124.72" y1="968.85" x2="130.12" y2="968.85" stroke="#2a2a2a" stroke-width="1.3" stroke-linecap="butt"/>
<rect x="136.75" y="1042.50" width="14.85" height="60.70" fill="url(#hatch)" stroke="#4a4a4a" stroke-width="1"/>
<line x1="136.25" y1="1042.60" x2="152.10" y2="1042.60" stroke="#333" stroke-width="1.15" stroke-linecap="butt"/>
<line x1="144.18" y1="1041.00" x2="144.18" y2="1042.00" stroke="#2a2a2a" stroke-width="1.1" stroke-linecap="butt"/>
<line x1="141.48" y1="1041.60" x2="146.88" y2="1041.60" stroke="#2a2a2a" stroke-width="1.3" stroke-linecap="butt"/>
<path d="M127.10,961.60 L127.10,957.20 L148.90,957.20 L148.90,961.60" fill="none" stroke="#1e1e1e" stroke-width="1.7" stroke-linejoin="round"/>
<polygon points="133.15,949.30 133.84,950.95 135.62,951.10 134.26,952.26 134.68,954.00 133.15,953.07 131.62,954.00 132.04,952.26 130.68,951.10 132.46,950.95" fill="#222"/>
<polygon points="138.00,949.30 138.69,950.95 140.47,951.10 139.11,952.26 139.53,954.00 138.00,953.07 136.47,954.00 136.89,952.26 135.53,951.10 137.31,950.95" fill="#222"/>
<polygon points="142.85,949.30 143.54,950.95 145.32,951.10 143.96,952.26 144.38,954.00 142.85,953.07 141.32,954.00 141.74,952.26 140.38,951.10 142.16,950.95" fill="#222"/>
<path d="M72.50,929.80 L72.50,925.30 L126.75,925.30 L126.75,929.80" fill="none" stroke="#1e1e1e" stroke-width="1.7" stroke-linejoin="round"/>
<text transform="translate(99.50,921.60) scale(0.900,1)" text-anchor="middle" font-size="14.0" font-weight="normal" font-style="normal" fill="#1e1e1e" stroke="#1e1e1e" stroke-width="0.3" >a</text>
<path d="M93.00,912.80 L93.00,908.40 L147.00,908.40 L147.00,912.80" fill="none" stroke="#1e1e1e" stroke-width="1.7" stroke-linejoin="round"/>
<text transform="translate(118.75,905.00) scale(0.900,1)" text-anchor="middle" font-size="14.0" font-weight="normal" font-style="normal" fill="#1e1e1e" stroke="#1e1e1e" stroke-width="0.3" >b</text>
<text transform="translate(81.25,1116.90) scale(0.870,1)" text-anchor="middle" font-size="11.0" font-weight="normal" font-style="normal" fill="#1a1a1a" stroke="#1a1a1a" stroke-width="0.3" >control</text>
<text transform="translate(136.25,1116.90) scale(0.870,1)" text-anchor="middle" font-size="11.0" font-weight="normal" font-style="normal" fill="#1a1a1a" stroke="#1a1a1a" stroke-width="0.3" >salt</text>
<text transform="translate(76.46,1142.71) scale(1.034,1)" text-anchor="start" font-size="18.57" font-weight="normal" font-style="normal" fill="#1a1a1a" stroke="#1a1a1a" stroke-width="0.3" >(m)</text>
<rect x="199" y="998" width="31" height="8.5" rx="1" fill="#dddddd" stroke="#4a4a4a" stroke-width="1"/>
<rect x="199" y="1013" width="31" height="9" rx="1" fill="url(#hatch)" stroke="#4a4a4a" stroke-width="1"/>
<text transform="translate(238.25,1005.45) scale(0.919,1)" text-anchor="start" font-size="10.62" font-weight="normal" font-style="normal" fill="#1a1a1a" stroke="#1a1a1a" stroke-width="0.3" >Col</text>
<text transform="translate(238.42,1020.55) scale(0.949,1)" text-anchor="start" font-size="10.59" font-weight="normal" font-style="italic" fill="#1a1a1a" stroke="#1a1a1a" stroke-width="0.3" >oxs2-1</text>
</svg></body></html>
